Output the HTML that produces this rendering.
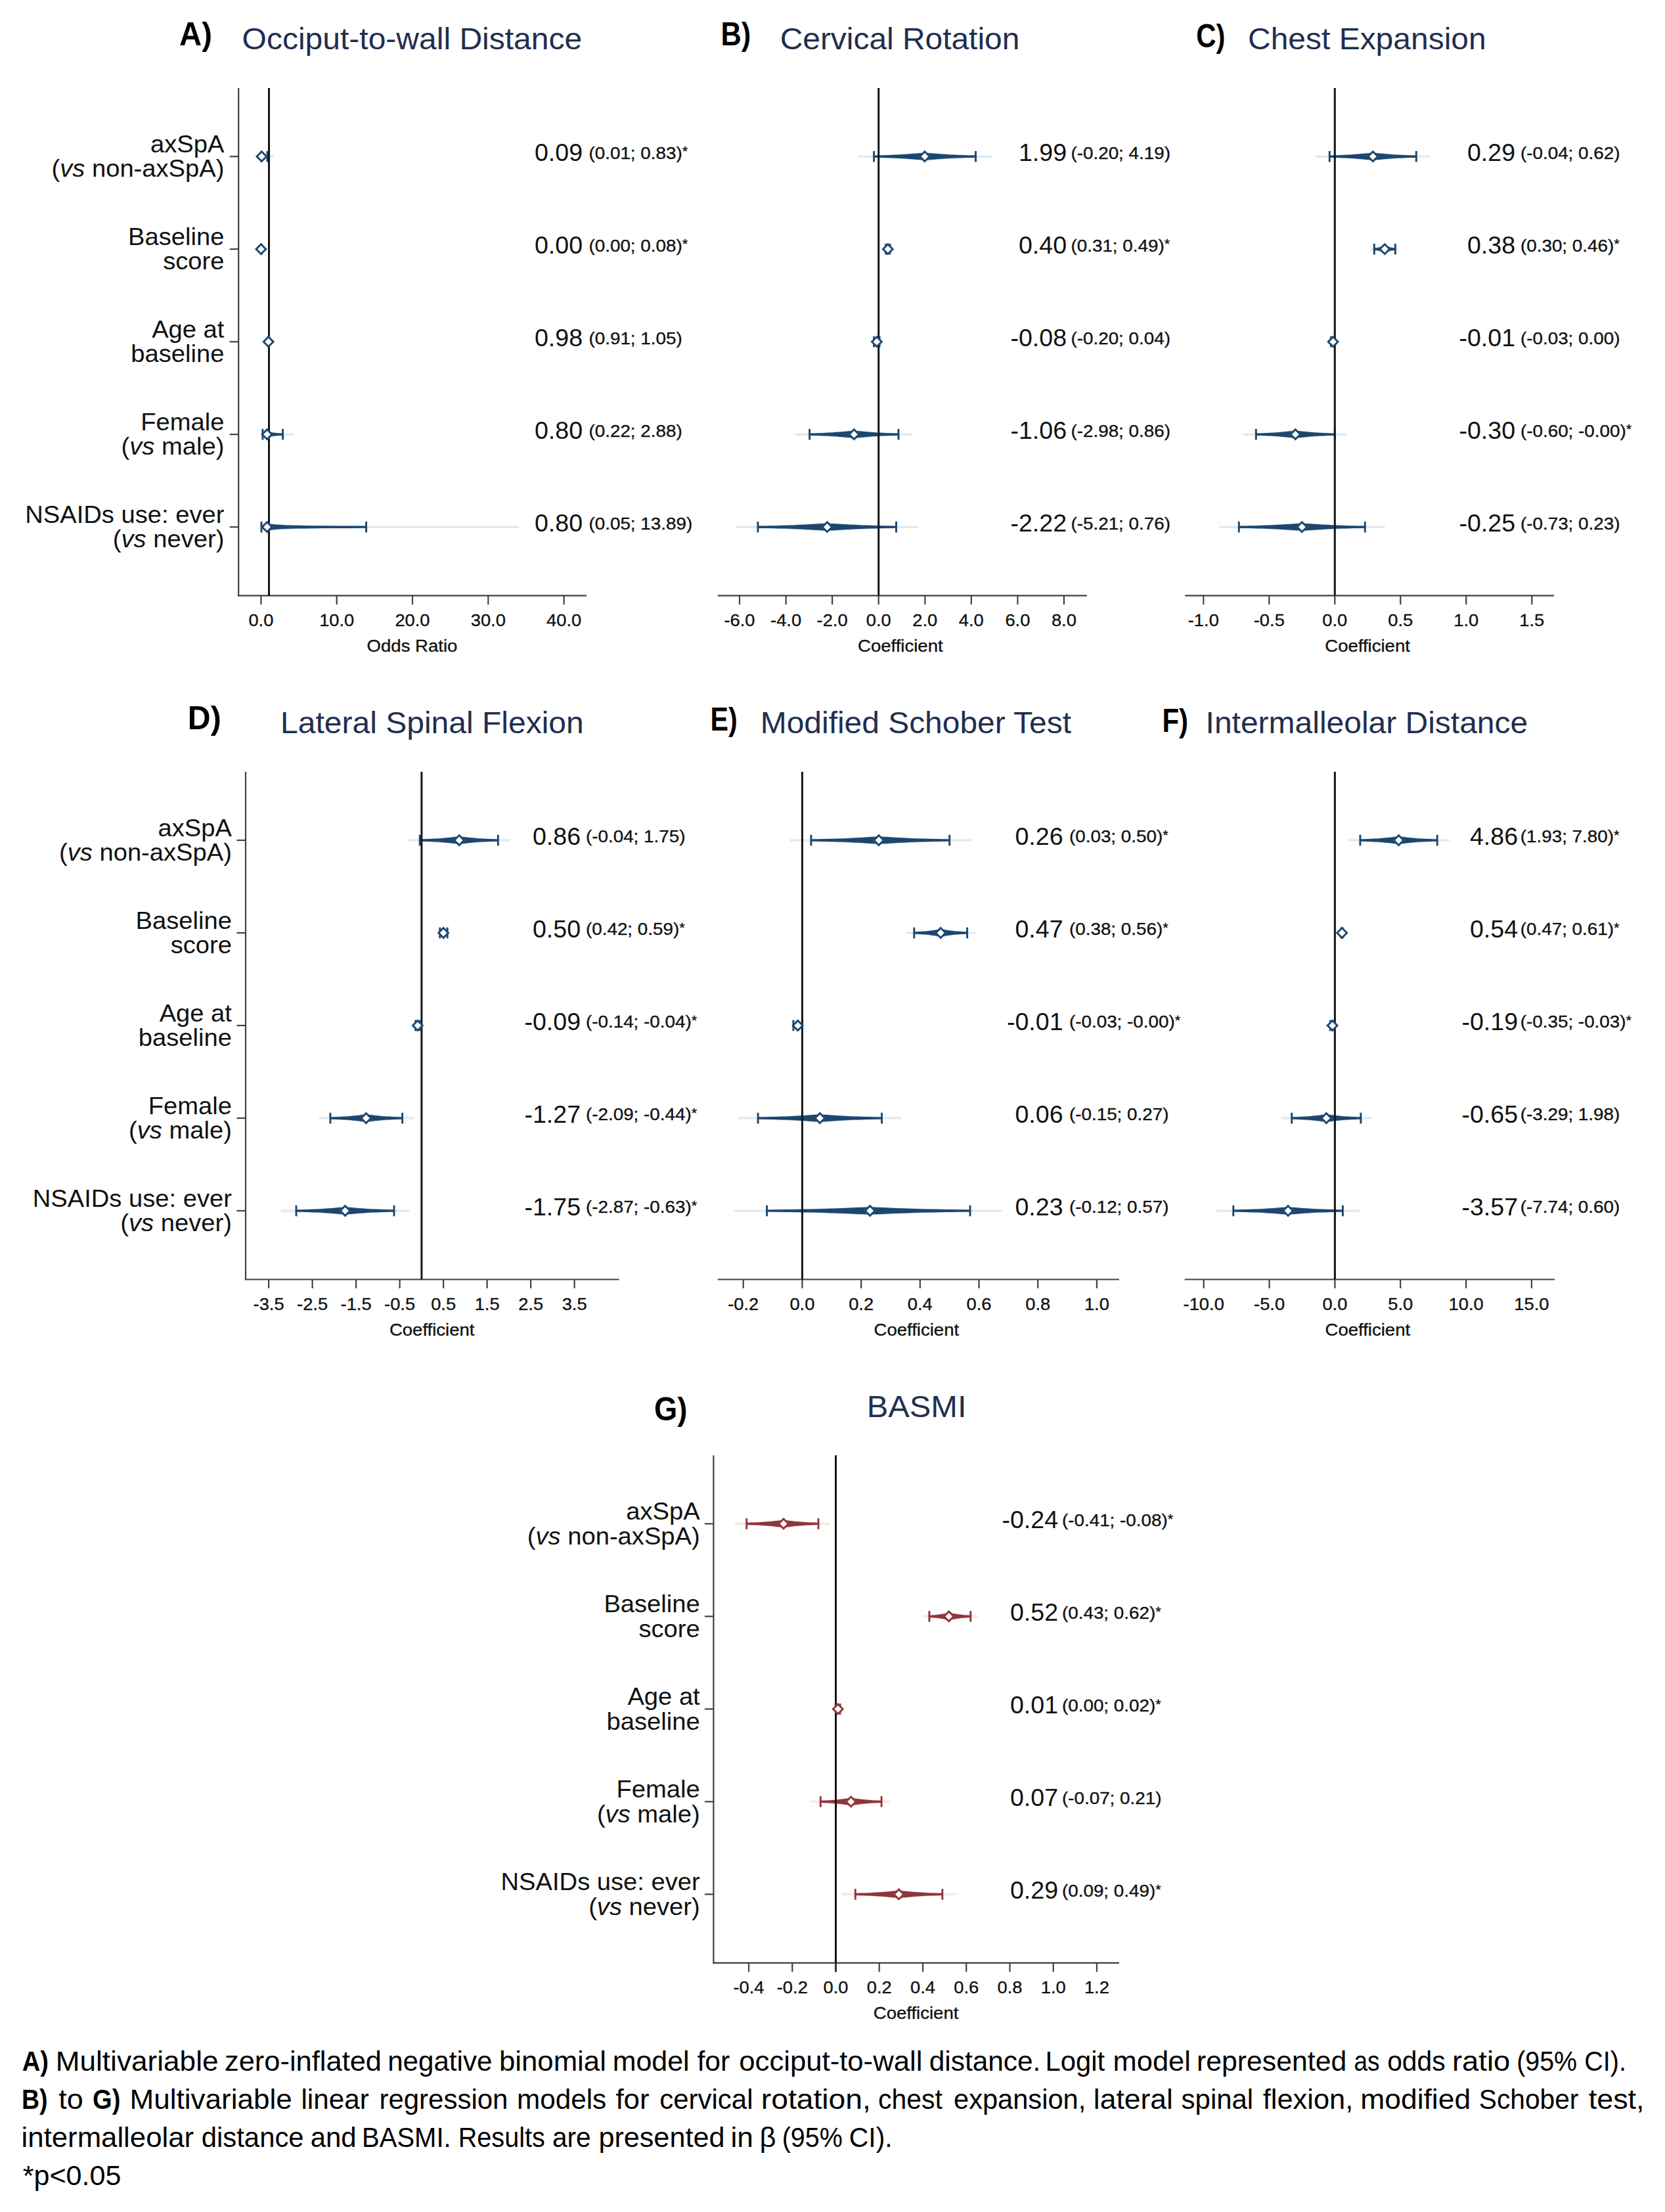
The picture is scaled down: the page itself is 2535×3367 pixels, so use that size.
<!DOCTYPE html>
<html lang="en"><head><meta charset="utf-8"><title>Figure</title>
<style>
html,body{margin:0;padding:0;background:#fff;}
body{width:2535px;height:3367px;overflow:hidden;}
svg{display:block;font-family:'Liberation Sans', Arial, Helvetica, sans-serif;}
</style></head><body>
<svg width="2535" height="3367" viewBox="0 0 2535 3367" style="font-family:'Liberation Sans', Arial, Helvetica, sans-serif">
<rect width="2535" height="3367" fill="#fff"/>
<text transform="translate(273.0,68.5) scale(0.957,1)" font-size="49.5" font-weight="bold" fill="#000">A)</text>
<text transform="translate(368.6,75.4) scale(1.0217,1)" font-size="47" fill="#212e50">Occiput-to-wall Distance</text>
<line x1="397.5" y1="238.2" x2="416.6" y2="238.2" stroke="#e3e9f0" stroke-width="3.6"/>
<polygon points="397.5,236.0 397.5,235.9 397.6,235.8 397.6,235.7 397.6,235.5 397.6,235.4 397.7,235.2 397.7,234.9 397.7,234.6 397.8,234.3 397.9,234.0 397.9,233.6 398.0,233.2 398.1,232.8 398.2,232.4 398.3,231.9 398.4,231.4 398.6,231.9 398.8,232.4 399.0,232.8 399.2,233.2 399.5,233.6 399.8,234.0 400.1,234.3 400.6,234.6 401.0,234.9 401.6,235.2 402.2,235.4 402.9,235.5 403.7,235.7 404.6,235.8 405.7,235.9 407.0,236.0 407.0,240.4 405.7,240.5 404.6,240.6 403.7,240.7 402.9,240.9 402.2,241.0 401.6,241.2 401.0,241.5 400.6,241.8 400.1,242.1 399.8,242.4 399.5,242.8 399.2,243.2 399.0,243.6 398.8,244.0 398.6,244.5 398.4,244.9 398.3,244.5 398.2,244.0 398.1,243.6 398.0,243.2 397.9,242.8 397.9,242.4 397.8,242.1 397.7,241.8 397.7,241.5 397.7,241.2 397.6,241.0 397.6,240.9 397.6,240.7 397.6,240.6 397.5,240.5 397.5,240.4" fill="#8fa6bd" opacity="0.35"/>
<polygon points="397.5,236.6 397.5,236.5 397.6,236.4 397.6,236.3 397.6,236.2 397.6,236.0 397.7,235.8 397.7,235.6 397.7,235.4 397.8,235.1 397.9,234.8 397.9,234.5 398.0,234.1 398.1,233.7 398.2,233.3 398.3,232.9 398.4,232.4 398.6,232.9 398.8,233.3 399.0,233.7 399.2,234.1 399.5,234.5 399.8,234.8 400.1,235.1 400.6,235.4 401.0,235.6 401.6,235.8 402.2,236.0 402.9,236.2 403.7,236.3 404.6,236.4 405.7,236.5 407.0,236.6 407.0,239.8 405.7,239.9 404.6,240.0 403.7,240.1 402.9,240.2 402.2,240.4 401.6,240.6 401.0,240.8 400.6,241.0 400.1,241.3 399.8,241.6 399.5,241.9 399.2,242.3 399.0,242.7 398.8,243.1 398.6,243.5 398.4,243.9 398.3,243.5 398.2,243.1 398.1,242.7 398.0,242.3 397.9,241.9 397.9,241.6 397.8,241.3 397.7,241.0 397.7,240.8 397.7,240.6 397.6,240.4 397.6,240.2 397.6,240.1 397.6,240.0 397.5,239.9 397.5,239.8" fill="#1a476f"/>
<line x1="397.5" y1="229.9" x2="397.5" y2="246.5" stroke="#1a476f" stroke-width="2.9"/>
<line x1="407.0" y1="229.9" x2="407.0" y2="246.5" stroke="#1a476f" stroke-width="2.9"/>
<line x1="397.4" y1="379.2" x2="400.3" y2="379.2" stroke="#e3e9f0" stroke-width="3.6"/>
<polygon points="397.4,377.0 397.4,376.9 397.4,376.8 397.4,376.7 397.4,376.5 397.4,376.4 397.4,376.2 397.4,375.9 397.4,375.6 397.4,375.3 397.4,375.0 397.4,374.6 397.4,374.2 397.4,373.8 397.4,373.4 397.4,372.9 397.4,372.4 397.4,372.9 397.4,373.4 397.4,373.8 397.5,374.2 397.5,374.6 397.5,375.0 397.5,375.3 397.5,375.6 397.6,375.9 397.6,376.2 397.7,376.4 397.8,376.5 397.9,376.7 398.0,376.8 398.1,376.9 398.3,377.0 398.3,381.4 398.1,381.5 398.0,381.6 397.9,381.7 397.8,381.9 397.7,382.0 397.6,382.2 397.6,382.5 397.5,382.8 397.5,383.1 397.5,383.4 397.5,383.8 397.5,384.2 397.4,384.6 397.4,385.0 397.4,385.5 397.4,385.9 397.4,385.5 397.4,385.0 397.4,384.6 397.4,384.2 397.4,383.8 397.4,383.4 397.4,383.1 397.4,382.8 397.4,382.5 397.4,382.2 397.4,382.0 397.4,381.9 397.4,381.7 397.4,381.6 397.4,381.5 397.4,381.4" fill="#8fa6bd" opacity="0.35"/>
<polygon points="397.4,377.6 397.4,377.5 397.4,377.4 397.4,377.3 397.4,377.2 397.4,377.0 397.4,376.8 397.4,376.6 397.4,376.4 397.4,376.1 397.4,375.8 397.4,375.5 397.4,375.1 397.4,374.7 397.4,374.3 397.4,373.9 397.4,373.4 397.4,373.9 397.4,374.3 397.4,374.7 397.5,375.1 397.5,375.5 397.5,375.8 397.5,376.1 397.5,376.4 397.6,376.6 397.6,376.8 397.7,377.0 397.8,377.2 397.9,377.3 398.0,377.4 398.1,377.5 398.3,377.6 398.3,380.8 398.1,380.9 398.0,381.0 397.9,381.1 397.8,381.2 397.7,381.4 397.6,381.6 397.6,381.8 397.5,382.0 397.5,382.3 397.5,382.6 397.5,382.9 397.5,383.3 397.4,383.7 397.4,384.1 397.4,384.5 397.4,384.9 397.4,384.5 397.4,384.1 397.4,383.7 397.4,383.3 397.4,382.9 397.4,382.6 397.4,382.3 397.4,382.0 397.4,381.8 397.4,381.6 397.4,381.4 397.4,381.2 397.4,381.1 397.4,381.0 397.4,380.9 397.4,380.8" fill="#1a476f"/>
<line x1="397.4" y1="370.9" x2="397.4" y2="387.5" stroke="#1a476f" stroke-width="2.9"/>
<line x1="398.3" y1="370.9" x2="398.3" y2="387.5" stroke="#1a476f" stroke-width="2.9"/>
<line x1="407.7" y1="520.2" x2="409.8" y2="520.2" stroke="#e3e9f0" stroke-width="3.6"/>
<polygon points="407.9,518.0 407.9,517.9 408.0,517.8 408.0,517.7 408.1,517.5 408.1,517.4 408.2,517.2 408.2,516.9 408.3,516.6 408.3,516.3 408.4,516.0 408.4,515.6 408.5,515.2 408.5,514.8 408.6,514.4 408.6,513.9 408.7,513.5 408.7,513.9 408.8,514.4 408.8,514.8 408.9,515.2 408.9,515.6 409.0,516.0 409.0,516.3 409.1,516.6 409.1,516.9 409.2,517.2 409.2,517.4 409.3,517.5 409.4,517.7 409.4,517.8 409.5,517.9 409.5,518.0 409.5,522.4 409.5,522.5 409.4,522.6 409.4,522.7 409.3,522.9 409.2,523.0 409.2,523.2 409.1,523.5 409.1,523.8 409.0,524.1 409.0,524.4 408.9,524.8 408.9,525.2 408.8,525.6 408.8,526.0 408.7,526.5 408.7,527.0 408.6,526.5 408.6,526.0 408.5,525.6 408.5,525.2 408.4,524.8 408.4,524.4 408.3,524.1 408.3,523.8 408.2,523.5 408.2,523.2 408.1,523.0 408.1,522.9 408.0,522.7 408.0,522.6 407.9,522.5 407.9,522.4" fill="#8fa6bd" opacity="0.35"/>
<polygon points="407.9,518.6 407.9,518.5 408.0,518.4 408.0,518.3 408.1,518.2 408.1,518.0 408.2,517.8 408.2,517.6 408.3,517.4 408.3,517.1 408.4,516.8 408.4,516.5 408.5,516.1 408.5,515.7 408.6,515.3 408.6,514.9 408.7,514.5 408.7,514.9 408.8,515.3 408.8,515.7 408.9,516.1 408.9,516.5 409.0,516.8 409.0,517.1 409.1,517.4 409.1,517.6 409.2,517.8 409.2,518.0 409.3,518.2 409.4,518.3 409.4,518.4 409.5,518.5 409.5,518.6 409.5,521.8 409.5,521.9 409.4,522.0 409.4,522.1 409.3,522.2 409.2,522.4 409.2,522.6 409.1,522.8 409.1,523.0 409.0,523.3 409.0,523.6 408.9,523.9 408.9,524.3 408.8,524.7 408.8,525.1 408.7,525.5 408.7,526.0 408.6,525.5 408.6,525.1 408.5,524.7 408.5,524.3 408.4,523.9 408.4,523.6 408.3,523.3 408.3,523.0 408.2,522.8 408.2,522.6 408.1,522.4 408.1,522.2 408.0,522.1 408.0,522.0 407.9,521.9 407.9,521.8" fill="#1a476f"/>
<line x1="407.9" y1="511.9" x2="407.9" y2="528.5" stroke="#1a476f" stroke-width="2.9"/>
<line x1="409.5" y1="511.9" x2="409.5" y2="528.5" stroke="#1a476f" stroke-width="2.9"/>
<line x1="399.1" y1="661.2" x2="447.1" y2="661.2" stroke="#e3e9f0" stroke-width="3.6"/>
<polygon points="399.9,659.0 400.1,658.9 400.4,658.8 400.6,658.7 400.9,658.5 401.2,658.4 401.5,658.2 401.9,657.9 402.2,657.6 402.6,657.3 403.1,657.0 403.6,656.6 404.1,656.2 404.6,655.8 405.2,655.4 405.9,654.9 406.6,654.5 407.4,654.9 408.2,655.4 409.1,655.8 410.1,656.2 411.2,656.6 412.3,657.0 413.6,657.3 414.9,657.6 416.4,657.9 417.9,658.2 419.7,658.4 421.5,658.5 423.5,658.7 425.7,658.8 428.1,658.9 430.6,659.0 430.6,663.4 428.1,663.5 425.7,663.6 423.5,663.7 421.5,663.9 419.7,664.0 417.9,664.2 416.4,664.5 414.9,664.8 413.6,665.1 412.3,665.4 411.2,665.8 410.1,666.2 409.1,666.6 408.2,667.0 407.4,667.5 406.6,668.0 405.9,667.5 405.2,667.0 404.6,666.6 404.1,666.2 403.6,665.8 403.1,665.4 402.6,665.1 402.2,664.8 401.9,664.5 401.5,664.2 401.2,664.0 400.9,663.9 400.6,663.7 400.4,663.6 400.1,663.5 399.9,663.4" fill="#8fa6bd" opacity="0.35"/>
<polygon points="399.9,659.6 400.1,659.5 400.4,659.4 400.6,659.3 400.9,659.2 401.2,659.0 401.5,658.8 401.9,658.6 402.2,658.4 402.6,658.1 403.1,657.8 403.6,657.5 404.1,657.1 404.6,656.7 405.2,656.3 405.9,655.9 406.6,655.5 407.4,655.9 408.2,656.3 409.1,656.7 410.1,657.1 411.2,657.5 412.3,657.8 413.6,658.1 414.9,658.4 416.4,658.6 417.9,658.8 419.7,659.0 421.5,659.2 423.5,659.3 425.7,659.4 428.1,659.5 430.6,659.6 430.6,662.8 428.1,662.9 425.7,663.0 423.5,663.1 421.5,663.2 419.7,663.4 417.9,663.6 416.4,663.8 414.9,664.0 413.6,664.3 412.3,664.6 411.2,664.9 410.1,665.3 409.1,665.7 408.2,666.1 407.4,666.5 406.6,667.0 405.9,666.5 405.2,666.1 404.6,665.7 404.1,665.3 403.6,664.9 403.1,664.6 402.6,664.3 402.2,664.0 401.9,663.8 401.5,663.6 401.2,663.4 400.9,663.2 400.6,663.1 400.4,663.0 400.1,662.9 399.9,662.8" fill="#1a476f"/>
<line x1="399.9" y1="652.9" x2="399.9" y2="669.5" stroke="#1a476f" stroke-width="2.9"/>
<line x1="430.6" y1="652.9" x2="430.6" y2="669.5" stroke="#1a476f" stroke-width="2.9"/>
<line x1="397.6" y1="802.2" x2="790.2" y2="802.2" stroke="#e3e9f0" stroke-width="3.6"/>
<polygon points="398.0,800.0 398.1,799.9 398.2,799.8 398.4,799.7 398.6,799.5 398.8,799.4 399.0,799.2 399.3,798.9 399.7,798.6 400.1,798.3 400.7,798.0 401.3,797.6 402.0,797.2 402.9,796.8 403.9,796.4 405.2,795.9 406.6,795.5 408.4,795.9 410.6,796.4 413.2,796.8 416.2,797.2 419.9,797.6 424.3,798.0 429.6,798.3 435.8,798.6 443.3,798.9 452.3,799.2 463.0,799.4 475.9,799.5 491.2,799.7 509.5,799.8 531.4,799.9 557.6,800.0 557.6,804.4 531.4,804.5 509.5,804.6 491.2,804.7 475.9,804.9 463.0,805.0 452.3,805.2 443.3,805.5 435.8,805.8 429.6,806.1 424.3,806.4 419.9,806.8 416.2,807.2 413.2,807.6 410.6,808.0 408.4,808.5 406.6,809.0 405.2,808.5 403.9,808.0 402.9,807.6 402.0,807.2 401.3,806.8 400.7,806.4 400.1,806.1 399.7,805.8 399.3,805.5 399.0,805.2 398.8,805.0 398.6,804.9 398.4,804.7 398.2,804.6 398.1,804.5 398.0,804.4" fill="#8fa6bd" opacity="0.35"/>
<polygon points="398.0,800.6 398.1,800.5 398.2,800.4 398.4,800.3 398.6,800.2 398.8,800.0 399.0,799.8 399.3,799.6 399.7,799.4 400.1,799.1 400.7,798.8 401.3,798.5 402.0,798.1 402.9,797.7 403.9,797.3 405.2,796.9 406.6,796.5 408.4,796.9 410.6,797.3 413.2,797.7 416.2,798.1 419.9,798.5 424.3,798.8 429.6,799.1 435.8,799.4 443.3,799.6 452.3,799.8 463.0,800.0 475.9,800.2 491.2,800.3 509.5,800.4 531.4,800.5 557.6,800.6 557.6,803.8 531.4,803.9 509.5,804.0 491.2,804.1 475.9,804.2 463.0,804.4 452.3,804.6 443.3,804.8 435.8,805.0 429.6,805.3 424.3,805.6 419.9,805.9 416.2,806.3 413.2,806.7 410.6,807.1 408.4,807.5 406.6,808.0 405.2,807.5 403.9,807.1 402.9,806.7 402.0,806.3 401.3,805.9 400.7,805.6 400.1,805.3 399.7,805.0 399.3,804.8 399.0,804.6 398.8,804.4 398.6,804.2 398.4,804.1 398.2,804.0 398.1,803.9 398.0,803.8" fill="#1a476f"/>
<line x1="398.0" y1="793.9" x2="398.0" y2="810.5" stroke="#1a476f" stroke-width="2.9"/>
<line x1="557.6" y1="793.9" x2="557.6" y2="810.5" stroke="#1a476f" stroke-width="2.9"/>
<line x1="362.1" y1="906.7" x2="893.0" y2="906.7" stroke="#404040" stroke-width="2.2"/>
<line x1="363.2" y1="134.0" x2="363.2" y2="907.8" stroke="#404040" stroke-width="2.2"/>
<line x1="349.7" y1="238.2" x2="363.2" y2="238.2" stroke="#404040" stroke-width="2.2"/>
<text transform="translate(341.4,232.0) scale(1.045,1)" font-size="36.5" text-anchor="end" fill="#111111">axSpA</text>
<text transform="translate(341.4,269.4) scale(1.045,1)" font-size="36.5" text-anchor="end" fill="#111111">(<tspan font-style="italic">vs</tspan> non-axSpA)</text>
<line x1="349.7" y1="379.2" x2="363.2" y2="379.2" stroke="#404040" stroke-width="2.2"/>
<text transform="translate(341.4,373.0) scale(1.045,1)" font-size="36.5" text-anchor="end" fill="#111111">Baseline</text>
<text transform="translate(341.4,410.4) scale(1.045,1)" font-size="36.5" text-anchor="end" fill="#111111">score</text>
<line x1="349.7" y1="520.2" x2="363.2" y2="520.2" stroke="#404040" stroke-width="2.2"/>
<text transform="translate(341.4,514.0) scale(1.045,1)" font-size="36.5" text-anchor="end" fill="#111111">Age at</text>
<text transform="translate(341.4,551.4) scale(1.045,1)" font-size="36.5" text-anchor="end" fill="#111111">baseline</text>
<line x1="349.7" y1="661.2" x2="363.2" y2="661.2" stroke="#404040" stroke-width="2.2"/>
<text transform="translate(341.4,655.0) scale(1.045,1)" font-size="36.5" text-anchor="end" fill="#111111">Female</text>
<text transform="translate(341.4,692.4) scale(1.045,1)" font-size="36.5" text-anchor="end" fill="#111111">(<tspan font-style="italic">vs</tspan> male)</text>
<line x1="349.7" y1="802.2" x2="363.2" y2="802.2" stroke="#404040" stroke-width="2.2"/>
<text transform="translate(341.4,796.0) scale(1.045,1)" font-size="36.5" text-anchor="end" fill="#111111">NSAIDs use: ever</text>
<text transform="translate(341.4,833.4) scale(1.045,1)" font-size="36.5" text-anchor="end" fill="#111111">(<tspan font-style="italic">vs</tspan> never)</text>
<line x1="409.5" y1="134.0" x2="409.5" y2="906.7" stroke="#151515" stroke-width="3.0"/>
<polygon points="388.5,238.2 398.4,228.3 408.3,238.2 398.4,248.1" fill="#8fa6bd" opacity="0.3"/>
<polygon points="391.0,238.2 398.4,230.8 405.8,238.2 398.4,245.6" fill="#fff" stroke="#1a476f" stroke-width="2.8" stroke-linejoin="miter"/>
<polygon points="387.5,379.2 397.4,369.3 407.3,379.2 397.4,389.1" fill="#8fa6bd" opacity="0.3"/>
<polygon points="390.0,379.2 397.4,371.8 404.8,379.2 397.4,386.6" fill="#fff" stroke="#1a476f" stroke-width="2.8" stroke-linejoin="miter"/>
<polygon points="398.8,520.2 408.7,510.3 418.6,520.2 408.7,530.1" fill="#8fa6bd" opacity="0.3"/>
<polygon points="401.3,520.2 408.7,512.8 416.1,520.2 408.7,527.6" fill="#fff" stroke="#1a476f" stroke-width="2.8" stroke-linejoin="miter"/>
<polygon points="396.7,661.2 406.6,651.3 416.5,661.2 406.6,671.1" fill="#8fa6bd" opacity="0.3"/>
<polygon points="399.2,661.2 406.6,653.8 414.0,661.2 406.6,668.6" fill="#fff" stroke="#1a476f" stroke-width="2.8" stroke-linejoin="miter"/>
<polygon points="396.7,802.2 406.6,792.3 416.5,802.2 406.6,812.1" fill="#8fa6bd" opacity="0.3"/>
<polygon points="399.2,802.2 406.6,794.8 414.0,802.2 406.6,809.6" fill="#fff" stroke="#1a476f" stroke-width="2.8" stroke-linejoin="miter"/>
<line x1="397.4" y1="906.7" x2="397.4" y2="920.2" stroke="#404040" stroke-width="2.2"/>
<text transform="translate(397.4,952.7) scale(1.03,1)" font-size="26.5" text-anchor="middle" fill="#111111" stroke="#111111" stroke-width="0.35">0.0</text>
<line x1="512.7" y1="906.7" x2="512.7" y2="920.2" stroke="#404040" stroke-width="2.2"/>
<text transform="translate(512.7,952.7) scale(1.03,1)" font-size="26.5" text-anchor="middle" fill="#111111" stroke="#111111" stroke-width="0.35">10.0</text>
<line x1="628.0" y1="906.7" x2="628.0" y2="920.2" stroke="#404040" stroke-width="2.2"/>
<text transform="translate(628.0,952.7) scale(1.03,1)" font-size="26.5" text-anchor="middle" fill="#111111" stroke="#111111" stroke-width="0.35">20.0</text>
<line x1="743.3" y1="906.7" x2="743.3" y2="920.2" stroke="#404040" stroke-width="2.2"/>
<text transform="translate(743.3,952.7) scale(1.03,1)" font-size="26.5" text-anchor="middle" fill="#111111" stroke="#111111" stroke-width="0.35">30.0</text>
<line x1="858.6" y1="906.7" x2="858.6" y2="920.2" stroke="#404040" stroke-width="2.2"/>
<text transform="translate(858.6,952.7) scale(1.03,1)" font-size="26.5" text-anchor="middle" fill="#111111" stroke="#111111" stroke-width="0.35">40.0</text>
<text transform="translate(627.5,991.7) scale(1.04,1)" font-size="26.5" text-anchor="middle" fill="#111111" stroke="#111111" stroke-width="0.35">Odds Ratio</text>
<text transform="translate(887.0,245.2) scale(1.042,1)" font-size="36" text-anchor="end" fill="#111111">0.09</text>
<text transform="translate(896.5,241.6) scale(1.07,1)" font-size="26" text-anchor="start" fill="#111111" stroke="#111111" stroke-width="0.35">(0.01; 0.83)<tspan font-size="20.5" dy="-4.2">*</tspan></text>
<text transform="translate(887.0,386.2) scale(1.042,1)" font-size="36" text-anchor="end" fill="#111111">0.00</text>
<text transform="translate(896.5,382.6) scale(1.07,1)" font-size="26" text-anchor="start" fill="#111111" stroke="#111111" stroke-width="0.35">(0.00; 0.08)<tspan font-size="20.5" dy="-4.2">*</tspan></text>
<text transform="translate(887.0,527.2) scale(1.042,1)" font-size="36" text-anchor="end" fill="#111111">0.98</text>
<text transform="translate(896.5,523.6) scale(1.07,1)" font-size="26" text-anchor="start" fill="#111111" stroke="#111111" stroke-width="0.35">(0.91; 1.05)</text>
<text transform="translate(887.0,668.2) scale(1.042,1)" font-size="36" text-anchor="end" fill="#111111">0.80</text>
<text transform="translate(896.5,664.6) scale(1.07,1)" font-size="26" text-anchor="start" fill="#111111" stroke="#111111" stroke-width="0.35">(0.22; 2.88)</text>
<text transform="translate(887.0,809.2) scale(1.042,1)" font-size="36" text-anchor="end" fill="#111111">0.80</text>
<text transform="translate(896.5,805.6) scale(1.07,1)" font-size="26" text-anchor="start" fill="#111111" stroke="#111111" stroke-width="0.35">(0.05; 13.89)</text>
<text transform="translate(1097.6,68.5) scale(0.875,1)" font-size="49.5" font-weight="bold" fill="#000">B)</text>
<text transform="translate(1187.7,75.4) scale(1.0191,1)" font-size="47" fill="#212e50">Cervical Rotation</text>
<line x1="1306.4" y1="238.2" x2="1509.9" y2="238.2" stroke="#e3e9f0" stroke-width="3.6"/>
<polygon points="1330.6,236.0 1335.5,235.9 1340.3,235.8 1345.1,235.7 1350.0,235.5 1354.8,235.4 1359.6,235.2 1364.4,234.9 1369.3,234.6 1374.1,234.3 1378.9,234.0 1383.8,233.6 1388.6,233.2 1393.4,232.8 1398.2,232.4 1403.1,231.9 1407.9,231.4 1412.8,231.9 1417.6,232.4 1422.5,232.8 1427.3,233.2 1432.2,233.6 1437.0,234.0 1441.9,234.3 1446.7,234.6 1451.6,234.9 1456.4,235.2 1461.3,235.4 1466.1,235.5 1471.0,235.7 1475.8,235.8 1480.7,235.9 1485.5,236.0 1485.5,240.4 1480.7,240.5 1475.8,240.6 1471.0,240.7 1466.1,240.9 1461.3,241.0 1456.4,241.2 1451.6,241.5 1446.7,241.8 1441.9,242.1 1437.0,242.4 1432.2,242.8 1427.3,243.2 1422.5,243.6 1417.6,244.0 1412.8,244.5 1407.9,244.9 1403.1,244.5 1398.2,244.0 1393.4,243.6 1388.6,243.2 1383.8,242.8 1378.9,242.4 1374.1,242.1 1369.3,241.8 1364.4,241.5 1359.6,241.2 1354.8,241.0 1350.0,240.9 1345.1,240.7 1340.3,240.6 1335.5,240.5 1330.6,240.4" fill="#8fa6bd" opacity="0.35"/>
<polygon points="1330.6,236.6 1335.5,236.5 1340.3,236.4 1345.1,236.3 1350.0,236.2 1354.8,236.0 1359.6,235.8 1364.4,235.6 1369.3,235.4 1374.1,235.1 1378.9,234.8 1383.8,234.5 1388.6,234.1 1393.4,233.7 1398.2,233.3 1403.1,232.9 1407.9,232.4 1412.8,232.9 1417.6,233.3 1422.5,233.7 1427.3,234.1 1432.2,234.5 1437.0,234.8 1441.9,235.1 1446.7,235.4 1451.6,235.6 1456.4,235.8 1461.3,236.0 1466.1,236.2 1471.0,236.3 1475.8,236.4 1480.7,236.5 1485.5,236.6 1485.5,239.8 1480.7,239.9 1475.8,240.0 1471.0,240.1 1466.1,240.2 1461.3,240.4 1456.4,240.6 1451.6,240.8 1446.7,241.0 1441.9,241.3 1437.0,241.6 1432.2,241.9 1427.3,242.3 1422.5,242.7 1417.6,243.1 1412.8,243.5 1407.9,243.9 1403.1,243.5 1398.2,243.1 1393.4,242.7 1388.6,242.3 1383.8,241.9 1378.9,241.6 1374.1,241.3 1369.3,241.0 1364.4,240.8 1359.6,240.6 1354.8,240.4 1350.0,240.2 1345.1,240.1 1340.3,240.0 1335.5,239.9 1330.6,239.8" fill="#1a476f"/>
<line x1="1330.6" y1="229.9" x2="1330.6" y2="246.5" stroke="#1a476f" stroke-width="2.9"/>
<line x1="1485.5" y1="229.9" x2="1485.5" y2="246.5" stroke="#1a476f" stroke-width="2.9"/>
<line x1="1347.6" y1="379.2" x2="1356.0" y2="379.2" stroke="#e3e9f0" stroke-width="3.6"/>
<polygon points="1348.6,377.0 1348.8,376.9 1349.0,376.8 1349.2,376.7 1349.4,376.5 1349.6,376.4 1349.8,376.2 1350.0,375.9 1350.2,375.6 1350.4,375.3 1350.6,375.0 1350.8,374.6 1351.0,374.2 1351.2,373.8 1351.4,373.4 1351.6,372.9 1351.8,372.4 1352.0,372.9 1352.2,373.4 1352.4,373.8 1352.6,374.2 1352.8,374.6 1353.0,375.0 1353.2,375.3 1353.4,375.6 1353.6,375.9 1353.8,376.2 1354.0,376.4 1354.2,376.5 1354.4,376.7 1354.6,376.8 1354.8,376.9 1355.0,377.0 1355.0,381.4 1354.8,381.5 1354.6,381.6 1354.4,381.7 1354.2,381.9 1354.0,382.0 1353.8,382.2 1353.6,382.5 1353.4,382.8 1353.2,383.1 1353.0,383.4 1352.8,383.8 1352.6,384.2 1352.4,384.6 1352.2,385.0 1352.0,385.5 1351.8,385.9 1351.6,385.5 1351.4,385.0 1351.2,384.6 1351.0,384.2 1350.8,383.8 1350.6,383.4 1350.4,383.1 1350.2,382.8 1350.0,382.5 1349.8,382.2 1349.6,382.0 1349.4,381.9 1349.2,381.7 1349.0,381.6 1348.8,381.5 1348.6,381.4" fill="#8fa6bd" opacity="0.35"/>
<polygon points="1348.6,377.6 1348.8,377.5 1349.0,377.4 1349.2,377.3 1349.4,377.2 1349.6,377.0 1349.8,376.8 1350.0,376.6 1350.2,376.4 1350.4,376.1 1350.6,375.8 1350.8,375.5 1351.0,375.1 1351.2,374.7 1351.4,374.3 1351.6,373.9 1351.8,373.4 1352.0,373.9 1352.2,374.3 1352.4,374.7 1352.6,375.1 1352.8,375.5 1353.0,375.8 1353.2,376.1 1353.4,376.4 1353.6,376.6 1353.8,376.8 1354.0,377.0 1354.2,377.2 1354.4,377.3 1354.6,377.4 1354.8,377.5 1355.0,377.6 1355.0,380.8 1354.8,380.9 1354.6,381.0 1354.4,381.1 1354.2,381.2 1354.0,381.4 1353.8,381.6 1353.6,381.8 1353.4,382.0 1353.2,382.3 1353.0,382.6 1352.8,382.9 1352.6,383.3 1352.4,383.7 1352.2,384.1 1352.0,384.5 1351.8,384.9 1351.6,384.5 1351.4,384.1 1351.2,383.7 1351.0,383.3 1350.8,382.9 1350.6,382.6 1350.4,382.3 1350.2,382.0 1350.0,381.8 1349.8,381.6 1349.6,381.4 1349.4,381.2 1349.2,381.1 1349.0,381.0 1348.8,380.9 1348.6,380.8" fill="#1a476f"/>
<line x1="1348.6" y1="370.9" x2="1348.6" y2="387.5" stroke="#1a476f" stroke-width="2.9"/>
<line x1="1355.0" y1="370.9" x2="1355.0" y2="387.5" stroke="#1a476f" stroke-width="2.9"/>
<line x1="1329.3" y1="520.2" x2="1340.4" y2="520.2" stroke="#e3e9f0" stroke-width="3.6"/>
<polygon points="1330.6,518.0 1330.9,517.9 1331.2,517.8 1331.4,517.7 1331.7,517.5 1332.0,517.4 1332.2,517.2 1332.5,516.9 1332.8,516.6 1333.0,516.3 1333.3,516.0 1333.6,515.6 1333.8,515.2 1334.1,514.8 1334.3,514.4 1334.6,513.9 1334.9,513.5 1335.1,513.9 1335.4,514.4 1335.7,514.8 1335.9,515.2 1336.2,515.6 1336.5,516.0 1336.7,516.3 1337.0,516.6 1337.3,516.9 1337.5,517.2 1337.8,517.4 1338.1,517.5 1338.3,517.7 1338.6,517.8 1338.8,517.9 1339.1,518.0 1339.1,522.4 1338.8,522.5 1338.6,522.6 1338.3,522.7 1338.1,522.9 1337.8,523.0 1337.5,523.2 1337.3,523.5 1337.0,523.8 1336.7,524.1 1336.5,524.4 1336.2,524.8 1335.9,525.2 1335.7,525.6 1335.4,526.0 1335.1,526.5 1334.9,527.0 1334.6,526.5 1334.3,526.0 1334.1,525.6 1333.8,525.2 1333.6,524.8 1333.3,524.4 1333.0,524.1 1332.8,523.8 1332.5,523.5 1332.2,523.2 1332.0,523.0 1331.7,522.9 1331.4,522.7 1331.2,522.6 1330.9,522.5 1330.6,522.4" fill="#8fa6bd" opacity="0.35"/>
<polygon points="1330.6,518.6 1330.9,518.5 1331.2,518.4 1331.4,518.3 1331.7,518.2 1332.0,518.0 1332.2,517.8 1332.5,517.6 1332.8,517.4 1333.0,517.1 1333.3,516.8 1333.6,516.5 1333.8,516.1 1334.1,515.7 1334.3,515.3 1334.6,514.9 1334.9,514.5 1335.1,514.9 1335.4,515.3 1335.7,515.7 1335.9,516.1 1336.2,516.5 1336.5,516.8 1336.7,517.1 1337.0,517.4 1337.3,517.6 1337.5,517.8 1337.8,518.0 1338.1,518.2 1338.3,518.3 1338.6,518.4 1338.8,518.5 1339.1,518.6 1339.1,521.8 1338.8,521.9 1338.6,522.0 1338.3,522.1 1338.1,522.2 1337.8,522.4 1337.5,522.6 1337.3,522.8 1337.0,523.0 1336.7,523.3 1336.5,523.6 1336.2,523.9 1335.9,524.3 1335.7,524.7 1335.4,525.1 1335.1,525.5 1334.9,526.0 1334.6,525.5 1334.3,525.1 1334.1,524.7 1333.8,524.3 1333.6,523.9 1333.3,523.6 1333.0,523.3 1332.8,523.0 1332.5,522.8 1332.2,522.6 1332.0,522.4 1331.7,522.2 1331.4,522.1 1331.2,522.0 1330.9,521.9 1330.6,521.8" fill="#1a476f"/>
<line x1="1330.6" y1="511.9" x2="1330.6" y2="528.5" stroke="#1a476f" stroke-width="2.9"/>
<line x1="1339.1" y1="511.9" x2="1339.1" y2="528.5" stroke="#1a476f" stroke-width="2.9"/>
<line x1="1211.3" y1="661.2" x2="1389.3" y2="661.2" stroke="#e3e9f0" stroke-width="3.6"/>
<polygon points="1232.6,659.0 1236.8,658.9 1241.0,658.8 1245.3,658.7 1249.5,658.5 1253.7,658.4 1258.0,658.2 1262.2,657.9 1266.4,657.6 1270.7,657.3 1274.9,657.0 1279.1,656.6 1283.4,656.2 1287.6,655.8 1291.8,655.4 1296.1,654.9 1300.3,654.5 1304.5,654.9 1308.8,655.4 1313.0,655.8 1317.2,656.2 1321.5,656.6 1325.7,657.0 1329.9,657.3 1334.2,657.6 1338.4,657.9 1342.6,658.2 1346.9,658.4 1351.1,658.5 1355.3,658.7 1359.6,658.8 1363.8,658.9 1368.0,659.0 1368.0,663.4 1363.8,663.5 1359.6,663.6 1355.3,663.7 1351.1,663.9 1346.9,664.0 1342.6,664.2 1338.4,664.5 1334.2,664.8 1329.9,665.1 1325.7,665.4 1321.5,665.8 1317.2,666.2 1313.0,666.6 1308.8,667.0 1304.5,667.5 1300.3,668.0 1296.1,667.5 1291.8,667.0 1287.6,666.6 1283.4,666.2 1279.1,665.8 1274.9,665.4 1270.7,665.1 1266.4,664.8 1262.2,664.5 1258.0,664.2 1253.7,664.0 1249.5,663.9 1245.3,663.7 1241.0,663.6 1236.8,663.5 1232.6,663.4" fill="#8fa6bd" opacity="0.35"/>
<polygon points="1232.6,659.6 1236.8,659.5 1241.0,659.4 1245.3,659.3 1249.5,659.2 1253.7,659.0 1258.0,658.8 1262.2,658.6 1266.4,658.4 1270.7,658.1 1274.9,657.8 1279.1,657.5 1283.4,657.1 1287.6,656.7 1291.8,656.3 1296.1,655.9 1300.3,655.5 1304.5,655.9 1308.8,656.3 1313.0,656.7 1317.2,657.1 1321.5,657.5 1325.7,657.8 1329.9,658.1 1334.2,658.4 1338.4,658.6 1342.6,658.8 1346.9,659.0 1351.1,659.2 1355.3,659.3 1359.6,659.4 1363.8,659.5 1368.0,659.6 1368.0,662.8 1363.8,662.9 1359.6,663.0 1355.3,663.1 1351.1,663.2 1346.9,663.4 1342.6,663.6 1338.4,663.8 1334.2,664.0 1329.9,664.3 1325.7,664.6 1321.5,664.9 1317.2,665.3 1313.0,665.7 1308.8,666.1 1304.5,666.5 1300.3,667.0 1296.1,666.5 1291.8,666.1 1287.6,665.7 1283.4,665.3 1279.1,664.9 1274.9,664.6 1270.7,664.3 1266.4,664.0 1262.2,663.8 1258.0,663.6 1253.7,663.4 1249.5,663.2 1245.3,663.1 1241.0,663.0 1236.8,662.9 1232.6,662.8" fill="#1a476f"/>
<line x1="1232.6" y1="652.9" x2="1232.6" y2="669.5" stroke="#1a476f" stroke-width="2.9"/>
<line x1="1368.0" y1="652.9" x2="1368.0" y2="669.5" stroke="#1a476f" stroke-width="2.9"/>
<line x1="1120.7" y1="802.2" x2="1397.6" y2="802.2" stroke="#e3e9f0" stroke-width="3.6"/>
<polygon points="1153.9,800.0 1160.5,799.9 1167.1,799.8 1173.7,799.7 1180.3,799.5 1186.9,799.4 1193.4,799.2 1200.0,798.9 1206.6,798.6 1213.2,798.3 1219.8,798.0 1226.4,797.6 1233.0,797.2 1239.6,796.8 1246.2,796.4 1252.8,795.9 1259.4,795.5 1265.9,795.9 1272.5,796.4 1279.1,796.8 1285.7,797.2 1292.2,797.6 1298.8,798.0 1305.4,798.3 1311.9,798.6 1318.5,798.9 1325.1,799.2 1331.7,799.4 1338.2,799.5 1344.8,799.7 1351.4,799.8 1357.9,799.9 1364.5,800.0 1364.5,804.4 1357.9,804.5 1351.4,804.6 1344.8,804.7 1338.2,804.9 1331.7,805.0 1325.1,805.2 1318.5,805.5 1311.9,805.8 1305.4,806.1 1298.8,806.4 1292.2,806.8 1285.7,807.2 1279.1,807.6 1272.5,808.0 1265.9,808.5 1259.4,809.0 1252.8,808.5 1246.2,808.0 1239.6,807.6 1233.0,807.2 1226.4,806.8 1219.8,806.4 1213.2,806.1 1206.6,805.8 1200.0,805.5 1193.4,805.2 1186.9,805.0 1180.3,804.9 1173.7,804.7 1167.1,804.6 1160.5,804.5 1153.9,804.4" fill="#8fa6bd" opacity="0.35"/>
<polygon points="1153.9,800.6 1160.5,800.5 1167.1,800.4 1173.7,800.3 1180.3,800.2 1186.9,800.0 1193.4,799.8 1200.0,799.6 1206.6,799.4 1213.2,799.1 1219.8,798.8 1226.4,798.5 1233.0,798.1 1239.6,797.7 1246.2,797.3 1252.8,796.9 1259.4,796.5 1265.9,796.9 1272.5,797.3 1279.1,797.7 1285.7,798.1 1292.2,798.5 1298.8,798.8 1305.4,799.1 1311.9,799.4 1318.5,799.6 1325.1,799.8 1331.7,800.0 1338.2,800.2 1344.8,800.3 1351.4,800.4 1357.9,800.5 1364.5,800.6 1364.5,803.8 1357.9,803.9 1351.4,804.0 1344.8,804.1 1338.2,804.2 1331.7,804.4 1325.1,804.6 1318.5,804.8 1311.9,805.0 1305.4,805.3 1298.8,805.6 1292.2,805.9 1285.7,806.3 1279.1,806.7 1272.5,807.1 1265.9,807.5 1259.4,808.0 1252.8,807.5 1246.2,807.1 1239.6,806.7 1233.0,806.3 1226.4,805.9 1219.8,805.6 1213.2,805.3 1206.6,805.0 1200.0,804.8 1193.4,804.6 1186.9,804.4 1180.3,804.2 1173.7,804.1 1167.1,804.0 1160.5,803.9 1153.9,803.8" fill="#1a476f"/>
<line x1="1153.9" y1="793.9" x2="1153.9" y2="810.5" stroke="#1a476f" stroke-width="2.9"/>
<line x1="1364.5" y1="793.9" x2="1364.5" y2="810.5" stroke="#1a476f" stroke-width="2.9"/>
<line x1="1092.7" y1="906.7" x2="1654.9" y2="906.7" stroke="#404040" stroke-width="2.2"/>
<line x1="1337.7" y1="134.0" x2="1337.7" y2="906.7" stroke="#151515" stroke-width="3.0"/>
<polygon points="1398.0,238.2 1407.9,228.3 1417.8,238.2 1407.9,248.1" fill="#8fa6bd" opacity="0.3"/>
<polygon points="1400.5,238.2 1407.9,230.8 1415.3,238.2 1407.9,245.6" fill="#fff" stroke="#1a476f" stroke-width="2.8" stroke-linejoin="miter"/>
<polygon points="1341.9,379.2 1351.8,369.3 1361.7,379.2 1351.8,389.1" fill="#8fa6bd" opacity="0.3"/>
<polygon points="1344.4,379.2 1351.8,371.8 1359.2,379.2 1351.8,386.6" fill="#fff" stroke="#1a476f" stroke-width="2.8" stroke-linejoin="miter"/>
<polygon points="1325.0,520.2 1334.9,510.3 1344.8,520.2 1334.9,530.1" fill="#8fa6bd" opacity="0.3"/>
<polygon points="1327.5,520.2 1334.9,512.8 1342.3,520.2 1334.9,527.6" fill="#fff" stroke="#1a476f" stroke-width="2.8" stroke-linejoin="miter"/>
<polygon points="1290.4,661.2 1300.3,651.3 1310.2,661.2 1300.3,671.1" fill="#8fa6bd" opacity="0.3"/>
<polygon points="1292.9,661.2 1300.3,653.8 1307.7,661.2 1300.3,668.6" fill="#fff" stroke="#1a476f" stroke-width="2.8" stroke-linejoin="miter"/>
<polygon points="1249.5,802.2 1259.4,792.3 1269.3,802.2 1259.4,812.1" fill="#8fa6bd" opacity="0.3"/>
<polygon points="1252.0,802.2 1259.4,794.8 1266.8,802.2 1259.4,809.6" fill="#fff" stroke="#1a476f" stroke-width="2.8" stroke-linejoin="miter"/>
<line x1="1126.0" y1="906.7" x2="1126.0" y2="920.2" stroke="#404040" stroke-width="2.2"/>
<text transform="translate(1126.0,952.7) scale(1.03,1)" font-size="26.5" text-anchor="middle" fill="#111111" stroke="#111111" stroke-width="0.35">-6.0</text>
<line x1="1196.6" y1="906.7" x2="1196.6" y2="920.2" stroke="#404040" stroke-width="2.2"/>
<text transform="translate(1196.6,952.7) scale(1.03,1)" font-size="26.5" text-anchor="middle" fill="#111111" stroke="#111111" stroke-width="0.35">-4.0</text>
<line x1="1267.1" y1="906.7" x2="1267.1" y2="920.2" stroke="#404040" stroke-width="2.2"/>
<text transform="translate(1267.1,952.7) scale(1.03,1)" font-size="26.5" text-anchor="middle" fill="#111111" stroke="#111111" stroke-width="0.35">-2.0</text>
<line x1="1337.7" y1="906.7" x2="1337.7" y2="920.2" stroke="#404040" stroke-width="2.2"/>
<text transform="translate(1337.7,952.7) scale(1.03,1)" font-size="26.5" text-anchor="middle" fill="#111111" stroke="#111111" stroke-width="0.35">0.0</text>
<line x1="1408.3" y1="906.7" x2="1408.3" y2="920.2" stroke="#404040" stroke-width="2.2"/>
<text transform="translate(1408.3,952.7) scale(1.03,1)" font-size="26.5" text-anchor="middle" fill="#111111" stroke="#111111" stroke-width="0.35">2.0</text>
<line x1="1478.8" y1="906.7" x2="1478.8" y2="920.2" stroke="#404040" stroke-width="2.2"/>
<text transform="translate(1478.8,952.7) scale(1.03,1)" font-size="26.5" text-anchor="middle" fill="#111111" stroke="#111111" stroke-width="0.35">4.0</text>
<line x1="1549.4" y1="906.7" x2="1549.4" y2="920.2" stroke="#404040" stroke-width="2.2"/>
<text transform="translate(1549.4,952.7) scale(1.03,1)" font-size="26.5" text-anchor="middle" fill="#111111" stroke="#111111" stroke-width="0.35">6.0</text>
<line x1="1619.9" y1="906.7" x2="1619.9" y2="920.2" stroke="#404040" stroke-width="2.2"/>
<text transform="translate(1619.9,952.7) scale(1.03,1)" font-size="26.5" text-anchor="middle" fill="#111111" stroke="#111111" stroke-width="0.35">8.0</text>
<text transform="translate(1370.8,991.7) scale(1.04,1)" font-size="26.5" text-anchor="middle" fill="#111111" stroke="#111111" stroke-width="0.35">Coefficient</text>
<text transform="translate(1624.0,245.2) scale(1.042,1)" font-size="36" text-anchor="end" fill="#111111">1.99</text>
<text transform="translate(1630.5,241.6) scale(1.07,1)" font-size="26" text-anchor="start" fill="#111111" stroke="#111111" stroke-width="0.35">(-0.20; 4.19)</text>
<text transform="translate(1624.0,386.2) scale(1.042,1)" font-size="36" text-anchor="end" fill="#111111">0.40</text>
<text transform="translate(1630.5,382.6) scale(1.07,1)" font-size="26" text-anchor="start" fill="#111111" stroke="#111111" stroke-width="0.35">(0.31; 0.49)<tspan font-size="20.5" dy="-4.2">*</tspan></text>
<text transform="translate(1624.0,527.2) scale(1.042,1)" font-size="36" text-anchor="end" fill="#111111">-0.08</text>
<text transform="translate(1630.5,523.6) scale(1.07,1)" font-size="26" text-anchor="start" fill="#111111" stroke="#111111" stroke-width="0.35">(-0.20; 0.04)</text>
<text transform="translate(1624.0,668.2) scale(1.042,1)" font-size="36" text-anchor="end" fill="#111111">-1.06</text>
<text transform="translate(1630.5,664.6) scale(1.07,1)" font-size="26" text-anchor="start" fill="#111111" stroke="#111111" stroke-width="0.35">(-2.98; 0.86)</text>
<text transform="translate(1624.0,809.2) scale(1.042,1)" font-size="36" text-anchor="end" fill="#111111">-2.22</text>
<text transform="translate(1630.5,805.6) scale(1.07,1)" font-size="26" text-anchor="start" fill="#111111" stroke="#111111" stroke-width="0.35">(-5.21; 0.76)</text>
<text transform="translate(1821.2,71.6) scale(0.847,1)" font-size="49.5" font-weight="bold" fill="#000">C)</text>
<text transform="translate(1900.0,75.4) scale(1.0208,1)" font-size="47" fill="#212e50">Chest Expansion</text>
<line x1="2003.6" y1="238.2" x2="2177.0" y2="238.2" stroke="#e3e9f0" stroke-width="3.6"/>
<polygon points="2024.3,236.0 2028.4,235.9 2032.5,235.8 2036.7,235.7 2040.8,235.5 2044.9,235.4 2049.0,235.2 2053.2,234.9 2057.3,234.6 2061.4,234.3 2065.5,234.0 2069.7,233.6 2073.8,233.2 2077.9,232.8 2082.0,232.4 2086.2,231.9 2090.3,231.4 2094.4,231.9 2098.6,232.4 2102.7,232.8 2106.8,233.2 2110.9,233.6 2115.1,234.0 2119.2,234.3 2123.3,234.6 2127.4,234.9 2131.6,235.2 2135.7,235.4 2139.8,235.5 2143.9,235.7 2148.1,235.8 2152.2,235.9 2156.3,236.0 2156.3,240.4 2152.2,240.5 2148.1,240.6 2143.9,240.7 2139.8,240.9 2135.7,241.0 2131.6,241.2 2127.4,241.5 2123.3,241.8 2119.2,242.1 2115.1,242.4 2110.9,242.8 2106.8,243.2 2102.7,243.6 2098.6,244.0 2094.4,244.5 2090.3,244.9 2086.2,244.5 2082.0,244.0 2077.9,243.6 2073.8,243.2 2069.7,242.8 2065.5,242.4 2061.4,242.1 2057.3,241.8 2053.2,241.5 2049.0,241.2 2044.9,241.0 2040.8,240.9 2036.7,240.7 2032.5,240.6 2028.4,240.5 2024.3,240.4" fill="#8fa6bd" opacity="0.35"/>
<polygon points="2024.3,236.6 2028.4,236.5 2032.5,236.4 2036.7,236.3 2040.8,236.2 2044.9,236.0 2049.0,235.8 2053.2,235.6 2057.3,235.4 2061.4,235.1 2065.5,234.8 2069.7,234.5 2073.8,234.1 2077.9,233.7 2082.0,233.3 2086.2,232.9 2090.3,232.4 2094.4,232.9 2098.6,233.3 2102.7,233.7 2106.8,234.1 2110.9,234.5 2115.1,234.8 2119.2,235.1 2123.3,235.4 2127.4,235.6 2131.6,235.8 2135.7,236.0 2139.8,236.2 2143.9,236.3 2148.1,236.4 2152.2,236.5 2156.3,236.6 2156.3,239.8 2152.2,239.9 2148.1,240.0 2143.9,240.1 2139.8,240.2 2135.7,240.4 2131.6,240.6 2127.4,240.8 2123.3,241.0 2119.2,241.3 2115.1,241.6 2110.9,241.9 2106.8,242.3 2102.7,242.7 2098.6,243.1 2094.4,243.5 2090.3,243.9 2086.2,243.5 2082.0,243.1 2077.9,242.7 2073.8,242.3 2069.7,241.9 2065.5,241.6 2061.4,241.3 2057.3,241.0 2053.2,240.8 2049.0,240.6 2044.9,240.4 2040.8,240.2 2036.7,240.1 2032.5,240.0 2028.4,239.9 2024.3,239.8" fill="#1a476f"/>
<line x1="2024.3" y1="229.9" x2="2024.3" y2="246.5" stroke="#1a476f" stroke-width="2.9"/>
<line x1="2156.3" y1="229.9" x2="2156.3" y2="246.5" stroke="#1a476f" stroke-width="2.9"/>
<line x1="2087.3" y1="379.2" x2="2129.3" y2="379.2" stroke="#e3e9f0" stroke-width="3.6"/>
<polygon points="2092.3,377.0 2093.3,376.9 2094.3,376.8 2095.3,376.7 2096.3,376.5 2097.3,376.4 2098.3,376.2 2099.3,375.9 2100.3,375.6 2101.3,375.3 2102.3,375.0 2103.3,374.6 2104.3,374.2 2105.3,373.8 2106.3,373.4 2107.3,372.9 2108.3,372.4 2109.3,372.9 2110.3,373.4 2111.3,373.8 2112.3,374.2 2113.3,374.6 2114.3,375.0 2115.3,375.3 2116.3,375.6 2117.3,375.9 2118.3,376.2 2119.3,376.4 2120.3,376.5 2121.3,376.7 2122.3,376.8 2123.3,376.9 2124.3,377.0 2124.3,381.4 2123.3,381.5 2122.3,381.6 2121.3,381.7 2120.3,381.9 2119.3,382.0 2118.3,382.2 2117.3,382.5 2116.3,382.8 2115.3,383.1 2114.3,383.4 2113.3,383.8 2112.3,384.2 2111.3,384.6 2110.3,385.0 2109.3,385.5 2108.3,385.9 2107.3,385.5 2106.3,385.0 2105.3,384.6 2104.3,384.2 2103.3,383.8 2102.3,383.4 2101.3,383.1 2100.3,382.8 2099.3,382.5 2098.3,382.2 2097.3,382.0 2096.3,381.9 2095.3,381.7 2094.3,381.6 2093.3,381.5 2092.3,381.4" fill="#8fa6bd" opacity="0.35"/>
<polygon points="2092.3,377.6 2093.3,377.5 2094.3,377.4 2095.3,377.3 2096.3,377.2 2097.3,377.0 2098.3,376.8 2099.3,376.6 2100.3,376.4 2101.3,376.1 2102.3,375.8 2103.3,375.5 2104.3,375.1 2105.3,374.7 2106.3,374.3 2107.3,373.9 2108.3,373.4 2109.3,373.9 2110.3,374.3 2111.3,374.7 2112.3,375.1 2113.3,375.5 2114.3,375.8 2115.3,376.1 2116.3,376.4 2117.3,376.6 2118.3,376.8 2119.3,377.0 2120.3,377.2 2121.3,377.3 2122.3,377.4 2123.3,377.5 2124.3,377.6 2124.3,380.8 2123.3,380.9 2122.3,381.0 2121.3,381.1 2120.3,381.2 2119.3,381.4 2118.3,381.6 2117.3,381.8 2116.3,382.0 2115.3,382.3 2114.3,382.6 2113.3,382.9 2112.3,383.3 2111.3,383.7 2110.3,384.1 2109.3,384.5 2108.3,384.9 2107.3,384.5 2106.3,384.1 2105.3,383.7 2104.3,383.3 2103.3,382.9 2102.3,382.6 2101.3,382.3 2100.3,382.0 2099.3,381.8 2098.3,381.6 2097.3,381.4 2096.3,381.2 2095.3,381.1 2094.3,381.0 2093.3,380.9 2092.3,380.8" fill="#1a476f"/>
<line x1="2092.3" y1="370.9" x2="2092.3" y2="387.5" stroke="#1a476f" stroke-width="2.9"/>
<line x1="2124.3" y1="370.9" x2="2124.3" y2="387.5" stroke="#1a476f" stroke-width="2.9"/>
<line x1="2025.3" y1="520.2" x2="2033.1" y2="520.2" stroke="#e3e9f0" stroke-width="3.6"/>
<polygon points="2026.3,518.0 2026.5,517.9 2026.7,517.8 2026.9,517.7 2027.1,517.5 2027.3,517.4 2027.5,517.2 2027.7,516.9 2028.0,516.6 2028.2,516.3 2028.4,516.0 2028.6,515.6 2028.8,515.2 2029.0,514.8 2029.2,514.4 2029.4,513.9 2029.6,513.5 2029.8,513.9 2029.9,514.4 2030.1,514.8 2030.3,515.2 2030.4,515.6 2030.6,516.0 2030.8,516.3 2031.0,516.6 2031.1,516.9 2031.3,517.2 2031.5,517.4 2031.6,517.5 2031.8,517.7 2032.0,517.8 2032.1,517.9 2032.3,518.0 2032.3,522.4 2032.1,522.5 2032.0,522.6 2031.8,522.7 2031.6,522.9 2031.5,523.0 2031.3,523.2 2031.1,523.5 2031.0,523.8 2030.8,524.1 2030.6,524.4 2030.4,524.8 2030.3,525.2 2030.1,525.6 2029.9,526.0 2029.8,526.5 2029.6,527.0 2029.4,526.5 2029.2,526.0 2029.0,525.6 2028.8,525.2 2028.6,524.8 2028.4,524.4 2028.2,524.1 2028.0,523.8 2027.7,523.5 2027.5,523.2 2027.3,523.0 2027.1,522.9 2026.9,522.7 2026.7,522.6 2026.5,522.5 2026.3,522.4" fill="#8fa6bd" opacity="0.35"/>
<polygon points="2026.3,518.6 2026.5,518.5 2026.7,518.4 2026.9,518.3 2027.1,518.2 2027.3,518.0 2027.5,517.8 2027.7,517.6 2028.0,517.4 2028.2,517.1 2028.4,516.8 2028.6,516.5 2028.8,516.1 2029.0,515.7 2029.2,515.3 2029.4,514.9 2029.6,514.5 2029.8,514.9 2029.9,515.3 2030.1,515.7 2030.3,516.1 2030.4,516.5 2030.6,516.8 2030.8,517.1 2031.0,517.4 2031.1,517.6 2031.3,517.8 2031.5,518.0 2031.6,518.2 2031.8,518.3 2032.0,518.4 2032.1,518.5 2032.3,518.6 2032.3,521.8 2032.1,521.9 2032.0,522.0 2031.8,522.1 2031.6,522.2 2031.5,522.4 2031.3,522.6 2031.1,522.8 2031.0,523.0 2030.8,523.3 2030.6,523.6 2030.4,523.9 2030.3,524.3 2030.1,524.7 2029.9,525.1 2029.8,525.5 2029.6,526.0 2029.4,525.5 2029.2,525.1 2029.0,524.7 2028.8,524.3 2028.6,523.9 2028.4,523.6 2028.2,523.3 2028.0,523.0 2027.7,522.8 2027.5,522.6 2027.3,522.4 2027.1,522.2 2026.9,522.1 2026.7,522.0 2026.5,521.9 2026.3,521.8" fill="#1a476f"/>
<line x1="2026.3" y1="511.9" x2="2026.3" y2="528.5" stroke="#1a476f" stroke-width="2.9"/>
<line x1="2032.3" y1="511.9" x2="2032.3" y2="528.5" stroke="#1a476f" stroke-width="2.9"/>
<line x1="1893.4" y1="661.2" x2="2051.2" y2="661.2" stroke="#e3e9f0" stroke-width="3.6"/>
<polygon points="1912.3,659.0 1916.0,658.9 1919.8,658.8 1923.5,658.7 1927.3,658.5 1931.0,658.4 1934.8,658.2 1938.5,657.9 1942.3,657.6 1946.0,657.3 1949.8,657.0 1953.5,656.6 1957.3,656.2 1961.0,655.8 1964.8,655.4 1968.5,654.9 1972.3,654.5 1976.0,654.9 1979.8,655.4 1983.5,655.8 1987.3,656.2 1991.0,656.6 1994.8,657.0 1998.5,657.3 2002.3,657.6 2006.0,657.9 2009.8,658.2 2013.5,658.4 2017.3,658.5 2021.0,658.7 2024.8,658.8 2028.5,658.9 2032.3,659.0 2032.3,663.4 2028.5,663.5 2024.8,663.6 2021.0,663.7 2017.3,663.9 2013.5,664.0 2009.8,664.2 2006.0,664.5 2002.3,664.8 1998.5,665.1 1994.8,665.4 1991.0,665.8 1987.3,666.2 1983.5,666.6 1979.8,667.0 1976.0,667.5 1972.3,668.0 1968.5,667.5 1964.8,667.0 1961.0,666.6 1957.3,666.2 1953.5,665.8 1949.8,665.4 1946.0,665.1 1942.3,664.8 1938.5,664.5 1934.8,664.2 1931.0,664.0 1927.3,663.9 1923.5,663.7 1919.8,663.6 1916.0,663.5 1912.3,663.4" fill="#8fa6bd" opacity="0.35"/>
<polygon points="1912.3,659.6 1916.0,659.5 1919.8,659.4 1923.5,659.3 1927.3,659.2 1931.0,659.0 1934.8,658.8 1938.5,658.6 1942.3,658.4 1946.0,658.1 1949.8,657.8 1953.5,657.5 1957.3,657.1 1961.0,656.7 1964.8,656.3 1968.5,655.9 1972.3,655.5 1976.0,655.9 1979.8,656.3 1983.5,656.7 1987.3,657.1 1991.0,657.5 1994.8,657.8 1998.5,658.1 2002.3,658.4 2006.0,658.6 2009.8,658.8 2013.5,659.0 2017.3,659.2 2021.0,659.3 2024.8,659.4 2028.5,659.5 2032.3,659.6 2032.3,662.8 2028.5,662.9 2024.8,663.0 2021.0,663.1 2017.3,663.2 2013.5,663.4 2009.8,663.6 2006.0,663.8 2002.3,664.0 1998.5,664.3 1994.8,664.6 1991.0,664.9 1987.3,665.3 1983.5,665.7 1979.8,666.1 1976.0,666.5 1972.3,667.0 1968.5,666.5 1964.8,666.1 1961.0,665.7 1957.3,665.3 1953.5,664.9 1949.8,664.6 1946.0,664.3 1942.3,664.0 1938.5,663.8 1934.8,663.6 1931.0,663.4 1927.3,663.2 1923.5,663.1 1919.8,663.0 1916.0,662.9 1912.3,662.8" fill="#1a476f"/>
<line x1="1912.3" y1="652.9" x2="1912.3" y2="669.5" stroke="#1a476f" stroke-width="2.9"/>
<line x1="2032.3" y1="652.9" x2="2032.3" y2="669.5" stroke="#1a476f" stroke-width="2.9"/>
<line x1="1856.1" y1="802.2" x2="2108.5" y2="802.2" stroke="#e3e9f0" stroke-width="3.6"/>
<polygon points="1886.3,800.0 1892.3,799.9 1898.3,799.8 1904.3,799.7 1910.3,799.5 1916.3,799.4 1922.3,799.2 1928.3,798.9 1934.3,798.6 1940.3,798.3 1946.3,798.0 1952.3,797.6 1958.3,797.2 1964.3,796.8 1970.3,796.4 1976.3,795.9 1982.3,795.5 1988.3,795.9 1994.3,796.4 2000.3,796.8 2006.3,797.2 2012.3,797.6 2018.3,798.0 2024.3,798.3 2030.3,798.6 2036.3,798.9 2042.3,799.2 2048.3,799.4 2054.3,799.5 2060.3,799.7 2066.3,799.8 2072.3,799.9 2078.3,800.0 2078.3,804.4 2072.3,804.5 2066.3,804.6 2060.3,804.7 2054.3,804.9 2048.3,805.0 2042.3,805.2 2036.3,805.5 2030.3,805.8 2024.3,806.1 2018.3,806.4 2012.3,806.8 2006.3,807.2 2000.3,807.6 1994.3,808.0 1988.3,808.5 1982.3,809.0 1976.3,808.5 1970.3,808.0 1964.3,807.6 1958.3,807.2 1952.3,806.8 1946.3,806.4 1940.3,806.1 1934.3,805.8 1928.3,805.5 1922.3,805.2 1916.3,805.0 1910.3,804.9 1904.3,804.7 1898.3,804.6 1892.3,804.5 1886.3,804.4" fill="#8fa6bd" opacity="0.35"/>
<polygon points="1886.3,800.6 1892.3,800.5 1898.3,800.4 1904.3,800.3 1910.3,800.2 1916.3,800.0 1922.3,799.8 1928.3,799.6 1934.3,799.4 1940.3,799.1 1946.3,798.8 1952.3,798.5 1958.3,798.1 1964.3,797.7 1970.3,797.3 1976.3,796.9 1982.3,796.5 1988.3,796.9 1994.3,797.3 2000.3,797.7 2006.3,798.1 2012.3,798.5 2018.3,798.8 2024.3,799.1 2030.3,799.4 2036.3,799.6 2042.3,799.8 2048.3,800.0 2054.3,800.2 2060.3,800.3 2066.3,800.4 2072.3,800.5 2078.3,800.6 2078.3,803.8 2072.3,803.9 2066.3,804.0 2060.3,804.1 2054.3,804.2 2048.3,804.4 2042.3,804.6 2036.3,804.8 2030.3,805.0 2024.3,805.3 2018.3,805.6 2012.3,805.9 2006.3,806.3 2000.3,806.7 1994.3,807.1 1988.3,807.5 1982.3,808.0 1976.3,807.5 1970.3,807.1 1964.3,806.7 1958.3,806.3 1952.3,805.9 1946.3,805.6 1940.3,805.3 1934.3,805.0 1928.3,804.8 1922.3,804.6 1916.3,804.4 1910.3,804.2 1904.3,804.1 1898.3,804.0 1892.3,803.9 1886.3,803.8" fill="#1a476f"/>
<line x1="1886.3" y1="793.9" x2="1886.3" y2="810.5" stroke="#1a476f" stroke-width="2.9"/>
<line x1="2078.3" y1="793.9" x2="2078.3" y2="810.5" stroke="#1a476f" stroke-width="2.9"/>
<line x1="1804.2" y1="906.7" x2="2366.0" y2="906.7" stroke="#404040" stroke-width="2.2"/>
<line x1="2032.3" y1="134.0" x2="2032.3" y2="906.7" stroke="#151515" stroke-width="3.0"/>
<polygon points="2080.4,238.2 2090.3,228.3 2100.2,238.2 2090.3,248.1" fill="#8fa6bd" opacity="0.3"/>
<polygon points="2082.9,238.2 2090.3,230.8 2097.7,238.2 2090.3,245.6" fill="#fff" stroke="#1a476f" stroke-width="2.8" stroke-linejoin="miter"/>
<polygon points="2098.4,379.2 2108.3,369.3 2118.2,379.2 2108.3,389.1" fill="#8fa6bd" opacity="0.3"/>
<polygon points="2100.9,379.2 2108.3,371.8 2115.7,379.2 2108.3,386.6" fill="#fff" stroke="#1a476f" stroke-width="2.8" stroke-linejoin="miter"/>
<polygon points="2019.7,520.2 2029.6,510.3 2039.5,520.2 2029.6,530.1" fill="#8fa6bd" opacity="0.3"/>
<polygon points="2022.2,520.2 2029.6,512.8 2037.0,520.2 2029.6,527.6" fill="#fff" stroke="#1a476f" stroke-width="2.8" stroke-linejoin="miter"/>
<polygon points="1962.4,661.2 1972.3,651.3 1982.2,661.2 1972.3,671.1" fill="#8fa6bd" opacity="0.3"/>
<polygon points="1964.9,661.2 1972.3,653.8 1979.7,661.2 1972.3,668.6" fill="#fff" stroke="#1a476f" stroke-width="2.8" stroke-linejoin="miter"/>
<polygon points="1972.4,802.2 1982.3,792.3 1992.2,802.2 1982.3,812.1" fill="#8fa6bd" opacity="0.3"/>
<polygon points="1974.9,802.2 1982.3,794.8 1989.7,802.2 1982.3,809.6" fill="#fff" stroke="#1a476f" stroke-width="2.8" stroke-linejoin="miter"/>
<line x1="1832.3" y1="906.7" x2="1832.3" y2="920.2" stroke="#404040" stroke-width="2.2"/>
<text transform="translate(1832.3,952.7) scale(1.03,1)" font-size="26.5" text-anchor="middle" fill="#111111" stroke="#111111" stroke-width="0.35">-1.0</text>
<line x1="1932.3" y1="906.7" x2="1932.3" y2="920.2" stroke="#404040" stroke-width="2.2"/>
<text transform="translate(1932.3,952.7) scale(1.03,1)" font-size="26.5" text-anchor="middle" fill="#111111" stroke="#111111" stroke-width="0.35">-0.5</text>
<line x1="2032.3" y1="906.7" x2="2032.3" y2="920.2" stroke="#404040" stroke-width="2.2"/>
<text transform="translate(2032.3,952.7) scale(1.03,1)" font-size="26.5" text-anchor="middle" fill="#111111" stroke="#111111" stroke-width="0.35">0.0</text>
<line x1="2132.3" y1="906.7" x2="2132.3" y2="920.2" stroke="#404040" stroke-width="2.2"/>
<text transform="translate(2132.3,952.7) scale(1.03,1)" font-size="26.5" text-anchor="middle" fill="#111111" stroke="#111111" stroke-width="0.35">0.5</text>
<line x1="2232.3" y1="906.7" x2="2232.3" y2="920.2" stroke="#404040" stroke-width="2.2"/>
<text transform="translate(2232.3,952.7) scale(1.03,1)" font-size="26.5" text-anchor="middle" fill="#111111" stroke="#111111" stroke-width="0.35">1.0</text>
<line x1="2332.3" y1="906.7" x2="2332.3" y2="920.2" stroke="#404040" stroke-width="2.2"/>
<text transform="translate(2332.3,952.7) scale(1.03,1)" font-size="26.5" text-anchor="middle" fill="#111111" stroke="#111111" stroke-width="0.35">1.5</text>
<text transform="translate(2082.1,991.7) scale(1.04,1)" font-size="26.5" text-anchor="middle" fill="#111111" stroke="#111111" stroke-width="0.35">Coefficient</text>
<text transform="translate(2307.0,245.2) scale(1.042,1)" font-size="36" text-anchor="end" fill="#111111">0.29</text>
<text transform="translate(2315.0,241.6) scale(1.07,1)" font-size="26" text-anchor="start" fill="#111111" stroke="#111111" stroke-width="0.35">(-0.04; 0.62)</text>
<text transform="translate(2307.0,386.2) scale(1.042,1)" font-size="36" text-anchor="end" fill="#111111">0.38</text>
<text transform="translate(2315.0,382.6) scale(1.07,1)" font-size="26" text-anchor="start" fill="#111111" stroke="#111111" stroke-width="0.35">(0.30; 0.46)<tspan font-size="20.5" dy="-4.2">*</tspan></text>
<text transform="translate(2307.0,527.2) scale(1.042,1)" font-size="36" text-anchor="end" fill="#111111">-0.01</text>
<text transform="translate(2315.0,523.6) scale(1.07,1)" font-size="26" text-anchor="start" fill="#111111" stroke="#111111" stroke-width="0.35">(-0.03; 0.00)</text>
<text transform="translate(2307.0,668.2) scale(1.042,1)" font-size="36" text-anchor="end" fill="#111111">-0.30</text>
<text transform="translate(2315.0,664.6) scale(1.07,1)" font-size="26" text-anchor="start" fill="#111111" stroke="#111111" stroke-width="0.35">(-0.60; -0.00)<tspan font-size="20.5" dy="-4.2">*</tspan></text>
<text transform="translate(2307.0,809.2) scale(1.042,1)" font-size="36" text-anchor="end" fill="#111111">-0.25</text>
<text transform="translate(2315.0,805.6) scale(1.07,1)" font-size="26" text-anchor="start" fill="#111111" stroke="#111111" stroke-width="0.35">(-0.73; 0.23)</text>
<text transform="translate(285.8,1110.0) scale(0.976,1)" font-size="49.5" font-weight="bold" fill="#000">D)</text>
<text transform="translate(427.1,1116.2) scale(1.0216,1)" font-size="47" fill="#212e50">Lateral Spinal Flexion</text>
<line x1="620.4" y1="1279.0" x2="776.9" y2="1279.0" stroke="#e3e9f0" stroke-width="3.6"/>
<polygon points="639.2,1276.8 643.0,1276.7 646.7,1276.6 650.5,1276.5 654.2,1276.3 657.9,1276.2 661.7,1276.0 665.4,1275.7 669.2,1275.4 672.9,1275.1 676.6,1274.8 680.4,1274.4 684.1,1274.0 687.9,1273.6 691.6,1273.2 695.3,1272.7 699.1,1272.2 702.8,1272.7 706.5,1273.2 710.2,1273.6 713.9,1274.0 717.6,1274.4 721.3,1274.8 725.0,1275.1 728.7,1275.4 732.4,1275.7 736.1,1276.0 739.8,1276.2 743.5,1276.3 747.2,1276.5 750.9,1276.6 754.6,1276.7 758.3,1276.8 758.3,1281.2 754.6,1281.3 750.9,1281.4 747.2,1281.5 743.5,1281.7 739.8,1281.8 736.1,1282.0 732.4,1282.3 728.7,1282.6 725.0,1282.9 721.3,1283.2 717.6,1283.6 713.9,1284.0 710.2,1284.4 706.5,1284.8 702.8,1285.3 699.1,1285.8 695.3,1285.3 691.6,1284.8 687.9,1284.4 684.1,1284.0 680.4,1283.6 676.6,1283.2 672.9,1282.9 669.2,1282.6 665.4,1282.3 661.7,1282.0 657.9,1281.8 654.2,1281.7 650.5,1281.5 646.7,1281.4 643.0,1281.3 639.2,1281.2" fill="#8fa6bd" opacity="0.35"/>
<polygon points="639.2,1277.4 643.0,1277.3 646.7,1277.2 650.5,1277.1 654.2,1277.0 657.9,1276.8 661.7,1276.6 665.4,1276.4 669.2,1276.2 672.9,1275.9 676.6,1275.6 680.4,1275.3 684.1,1274.9 687.9,1274.5 691.6,1274.1 695.3,1273.7 699.1,1273.2 702.8,1273.7 706.5,1274.1 710.2,1274.5 713.9,1274.9 717.6,1275.3 721.3,1275.6 725.0,1275.9 728.7,1276.2 732.4,1276.4 736.1,1276.6 739.8,1276.8 743.5,1277.0 747.2,1277.1 750.9,1277.2 754.6,1277.3 758.3,1277.4 758.3,1280.6 754.6,1280.7 750.9,1280.8 747.2,1280.9 743.5,1281.0 739.8,1281.2 736.1,1281.4 732.4,1281.6 728.7,1281.8 725.0,1282.1 721.3,1282.4 717.6,1282.7 713.9,1283.1 710.2,1283.5 706.5,1283.9 702.8,1284.3 699.1,1284.8 695.3,1284.3 691.6,1283.9 687.9,1283.5 684.1,1283.1 680.4,1282.7 676.6,1282.4 672.9,1282.1 669.2,1281.8 665.4,1281.6 661.7,1281.4 657.9,1281.2 654.2,1281.0 650.5,1280.9 646.7,1280.8 643.0,1280.7 639.2,1280.6" fill="#1a476f"/>
<line x1="639.2" y1="1270.7" x2="639.2" y2="1287.3" stroke="#1a476f" stroke-width="2.9"/>
<line x1="758.3" y1="1270.7" x2="758.3" y2="1287.3" stroke="#1a476f" stroke-width="2.9"/>
<line x1="668.2" y1="1420.0" x2="683.0" y2="1420.0" stroke="#e3e9f0" stroke-width="3.6"/>
<polygon points="669.8,1417.8 670.2,1417.7 670.5,1417.6 670.8,1417.5 671.2,1417.3 671.5,1417.2 671.8,1417.0 672.2,1416.7 672.5,1416.4 672.8,1416.1 673.2,1415.8 673.5,1415.4 673.8,1415.0 674.2,1414.6 674.5,1414.2 674.8,1413.7 675.1,1413.2 675.5,1413.7 675.9,1414.2 676.3,1414.6 676.6,1415.0 677.0,1415.4 677.4,1415.8 677.8,1416.1 678.1,1416.4 678.5,1416.7 678.9,1417.0 679.3,1417.2 679.6,1417.3 680.0,1417.5 680.4,1417.6 680.8,1417.7 681.1,1417.8 681.1,1422.2 680.8,1422.3 680.4,1422.4 680.0,1422.5 679.6,1422.7 679.3,1422.8 678.9,1423.0 678.5,1423.3 678.1,1423.6 677.8,1423.9 677.4,1424.2 677.0,1424.6 676.6,1425.0 676.3,1425.4 675.9,1425.8 675.5,1426.3 675.1,1426.8 674.8,1426.3 674.5,1425.8 674.2,1425.4 673.8,1425.0 673.5,1424.6 673.2,1424.2 672.8,1423.9 672.5,1423.6 672.2,1423.3 671.8,1423.0 671.5,1422.8 671.2,1422.7 670.8,1422.5 670.5,1422.4 670.2,1422.3 669.8,1422.2" fill="#8fa6bd" opacity="0.35"/>
<polygon points="669.8,1418.4 670.2,1418.3 670.5,1418.2 670.8,1418.1 671.2,1418.0 671.5,1417.8 671.8,1417.6 672.2,1417.4 672.5,1417.2 672.8,1416.9 673.2,1416.6 673.5,1416.3 673.8,1415.9 674.2,1415.5 674.5,1415.1 674.8,1414.7 675.1,1414.2 675.5,1414.7 675.9,1415.1 676.3,1415.5 676.6,1415.9 677.0,1416.3 677.4,1416.6 677.8,1416.9 678.1,1417.2 678.5,1417.4 678.9,1417.6 679.3,1417.8 679.6,1418.0 680.0,1418.1 680.4,1418.2 680.8,1418.3 681.1,1418.4 681.1,1421.6 680.8,1421.7 680.4,1421.8 680.0,1421.9 679.6,1422.0 679.3,1422.2 678.9,1422.4 678.5,1422.6 678.1,1422.8 677.8,1423.1 677.4,1423.4 677.0,1423.7 676.6,1424.1 676.3,1424.5 675.9,1424.9 675.5,1425.3 675.1,1425.8 674.8,1425.3 674.5,1424.9 674.2,1424.5 673.8,1424.1 673.5,1423.7 673.2,1423.4 672.8,1423.1 672.5,1422.8 672.2,1422.6 671.8,1422.4 671.5,1422.2 671.2,1422.0 670.8,1421.9 670.5,1421.8 670.2,1421.7 669.8,1421.6" fill="#1a476f"/>
<line x1="669.8" y1="1411.7" x2="669.8" y2="1428.3" stroke="#1a476f" stroke-width="2.9"/>
<line x1="681.1" y1="1411.7" x2="681.1" y2="1428.3" stroke="#1a476f" stroke-width="2.9"/>
<line x1="631.5" y1="1561.0" x2="640.3" y2="1561.0" stroke="#e3e9f0" stroke-width="3.6"/>
<polygon points="632.6,1558.8 632.8,1558.7 633.0,1558.6 633.2,1558.5 633.4,1558.3 633.6,1558.2 633.8,1558.0 634.0,1557.7 634.3,1557.4 634.5,1557.1 634.7,1556.8 634.9,1556.4 635.1,1556.0 635.3,1555.6 635.5,1555.2 635.7,1554.7 635.9,1554.2 636.1,1554.7 636.3,1555.2 636.5,1555.6 636.7,1556.0 637.0,1556.4 637.2,1556.8 637.4,1557.1 637.6,1557.4 637.8,1557.7 638.0,1558.0 638.2,1558.2 638.4,1558.3 638.6,1558.5 638.8,1558.6 639.0,1558.7 639.2,1558.8 639.2,1563.2 639.0,1563.3 638.8,1563.4 638.6,1563.5 638.4,1563.7 638.2,1563.8 638.0,1564.0 637.8,1564.3 637.6,1564.6 637.4,1564.9 637.2,1565.2 637.0,1565.6 636.7,1566.0 636.5,1566.4 636.3,1566.8 636.1,1567.3 635.9,1567.8 635.7,1567.3 635.5,1566.8 635.3,1566.4 635.1,1566.0 634.9,1565.6 634.7,1565.2 634.5,1564.9 634.3,1564.6 634.0,1564.3 633.8,1564.0 633.6,1563.8 633.4,1563.7 633.2,1563.5 633.0,1563.4 632.8,1563.3 632.6,1563.2" fill="#8fa6bd" opacity="0.35"/>
<polygon points="632.6,1559.4 632.8,1559.3 633.0,1559.2 633.2,1559.1 633.4,1559.0 633.6,1558.8 633.8,1558.6 634.0,1558.4 634.3,1558.2 634.5,1557.9 634.7,1557.6 634.9,1557.3 635.1,1556.9 635.3,1556.5 635.5,1556.1 635.7,1555.7 635.9,1555.2 636.1,1555.7 636.3,1556.1 636.5,1556.5 636.7,1556.9 637.0,1557.3 637.2,1557.6 637.4,1557.9 637.6,1558.2 637.8,1558.4 638.0,1558.6 638.2,1558.8 638.4,1559.0 638.6,1559.1 638.8,1559.2 639.0,1559.3 639.2,1559.4 639.2,1562.6 639.0,1562.7 638.8,1562.8 638.6,1562.9 638.4,1563.0 638.2,1563.2 638.0,1563.4 637.8,1563.6 637.6,1563.8 637.4,1564.1 637.2,1564.4 637.0,1564.7 636.7,1565.1 636.5,1565.5 636.3,1565.9 636.1,1566.3 635.9,1566.8 635.7,1566.3 635.5,1565.9 635.3,1565.5 635.1,1565.1 634.9,1564.7 634.7,1564.4 634.5,1564.1 634.3,1563.8 634.0,1563.6 633.8,1563.4 633.6,1563.2 633.4,1563.0 633.2,1562.9 633.0,1562.8 632.8,1562.7 632.6,1562.6" fill="#1a476f"/>
<line x1="632.6" y1="1552.7" x2="632.6" y2="1569.3" stroke="#1a476f" stroke-width="2.9"/>
<line x1="639.2" y1="1552.7" x2="639.2" y2="1569.3" stroke="#1a476f" stroke-width="2.9"/>
<line x1="485.8" y1="1702.0" x2="630.0" y2="1702.0" stroke="#e3e9f0" stroke-width="3.6"/>
<polygon points="502.9,1699.8 506.3,1699.7 509.7,1699.6 513.1,1699.5 516.5,1699.3 520.0,1699.2 523.4,1699.0 526.8,1698.7 530.2,1698.4 533.6,1698.1 537.0,1697.8 540.4,1697.4 543.8,1697.0 547.2,1696.6 550.6,1696.2 554.0,1695.7 557.4,1695.2 560.9,1695.7 564.3,1696.2 567.8,1696.6 571.2,1697.0 574.7,1697.4 578.1,1697.8 581.6,1698.1 585.0,1698.4 588.5,1698.7 591.9,1699.0 595.4,1699.2 598.8,1699.3 602.3,1699.5 605.7,1699.6 609.2,1699.7 612.6,1699.8 612.6,1704.2 609.2,1704.3 605.7,1704.4 602.3,1704.5 598.8,1704.7 595.4,1704.8 591.9,1705.0 588.5,1705.3 585.0,1705.6 581.6,1705.9 578.1,1706.2 574.7,1706.6 571.2,1707.0 567.8,1707.4 564.3,1707.8 560.9,1708.3 557.4,1708.8 554.0,1708.3 550.6,1707.8 547.2,1707.4 543.8,1707.0 540.4,1706.6 537.0,1706.2 533.6,1705.9 530.2,1705.6 526.8,1705.3 523.4,1705.0 520.0,1704.8 516.5,1704.7 513.1,1704.5 509.7,1704.4 506.3,1704.3 502.9,1704.2" fill="#8fa6bd" opacity="0.35"/>
<polygon points="502.9,1700.4 506.3,1700.3 509.7,1700.2 513.1,1700.1 516.5,1700.0 520.0,1699.8 523.4,1699.6 526.8,1699.4 530.2,1699.2 533.6,1698.9 537.0,1698.6 540.4,1698.3 543.8,1697.9 547.2,1697.5 550.6,1697.1 554.0,1696.7 557.4,1696.2 560.9,1696.7 564.3,1697.1 567.8,1697.5 571.2,1697.9 574.7,1698.3 578.1,1698.6 581.6,1698.9 585.0,1699.2 588.5,1699.4 591.9,1699.6 595.4,1699.8 598.8,1700.0 602.3,1700.1 605.7,1700.2 609.2,1700.3 612.6,1700.4 612.6,1703.6 609.2,1703.7 605.7,1703.8 602.3,1703.9 598.8,1704.0 595.4,1704.2 591.9,1704.4 588.5,1704.6 585.0,1704.8 581.6,1705.1 578.1,1705.4 574.7,1705.7 571.2,1706.1 567.8,1706.5 564.3,1706.9 560.9,1707.3 557.4,1707.8 554.0,1707.3 550.6,1706.9 547.2,1706.5 543.8,1706.1 540.4,1705.7 537.0,1705.4 533.6,1705.1 530.2,1704.8 526.8,1704.6 523.4,1704.4 520.0,1704.2 516.5,1704.0 513.1,1703.9 509.7,1703.8 506.3,1703.7 502.9,1703.6" fill="#1a476f"/>
<line x1="502.9" y1="1693.7" x2="502.9" y2="1710.3" stroke="#1a476f" stroke-width="2.9"/>
<line x1="612.6" y1="1693.7" x2="612.6" y2="1710.3" stroke="#1a476f" stroke-width="2.9"/>
<line x1="427.6" y1="1843.0" x2="623.4" y2="1843.0" stroke="#e3e9f0" stroke-width="3.6"/>
<polygon points="451.0,1840.8 455.7,1840.7 460.4,1840.6 465.0,1840.5 469.7,1840.3 474.3,1840.2 479.0,1840.0 483.6,1839.7 488.3,1839.4 492.9,1839.1 497.6,1838.8 502.2,1838.4 506.9,1838.0 511.6,1837.6 516.2,1837.2 520.9,1836.7 525.5,1836.2 530.2,1836.7 534.8,1837.2 539.5,1837.6 544.1,1838.0 548.8,1838.4 553.5,1838.8 558.1,1839.1 562.8,1839.4 567.4,1839.7 572.1,1840.0 576.7,1840.2 581.4,1840.3 586.0,1840.5 590.7,1840.6 595.4,1840.7 600.0,1840.8 600.0,1845.2 595.4,1845.3 590.7,1845.4 586.0,1845.5 581.4,1845.7 576.7,1845.8 572.1,1846.0 567.4,1846.3 562.8,1846.6 558.1,1846.9 553.5,1847.2 548.8,1847.6 544.1,1848.0 539.5,1848.4 534.8,1848.8 530.2,1849.3 525.5,1849.8 520.9,1849.3 516.2,1848.8 511.6,1848.4 506.9,1848.0 502.2,1847.6 497.6,1847.2 492.9,1846.9 488.3,1846.6 483.6,1846.3 479.0,1846.0 474.3,1845.8 469.7,1845.7 465.0,1845.5 460.4,1845.4 455.7,1845.3 451.0,1845.2" fill="#8fa6bd" opacity="0.35"/>
<polygon points="451.0,1841.4 455.7,1841.3 460.4,1841.2 465.0,1841.1 469.7,1841.0 474.3,1840.8 479.0,1840.6 483.6,1840.4 488.3,1840.2 492.9,1839.9 497.6,1839.6 502.2,1839.3 506.9,1838.9 511.6,1838.5 516.2,1838.1 520.9,1837.7 525.5,1837.2 530.2,1837.7 534.8,1838.1 539.5,1838.5 544.1,1838.9 548.8,1839.3 553.5,1839.6 558.1,1839.9 562.8,1840.2 567.4,1840.4 572.1,1840.6 576.7,1840.8 581.4,1841.0 586.0,1841.1 590.7,1841.2 595.4,1841.3 600.0,1841.4 600.0,1844.6 595.4,1844.7 590.7,1844.8 586.0,1844.9 581.4,1845.0 576.7,1845.2 572.1,1845.4 567.4,1845.6 562.8,1845.8 558.1,1846.1 553.5,1846.4 548.8,1846.7 544.1,1847.1 539.5,1847.5 534.8,1847.9 530.2,1848.3 525.5,1848.8 520.9,1848.3 516.2,1847.9 511.6,1847.5 506.9,1847.1 502.2,1846.7 497.6,1846.4 492.9,1846.1 488.3,1845.8 483.6,1845.6 479.0,1845.4 474.3,1845.2 469.7,1845.0 465.0,1844.9 460.4,1844.8 455.7,1844.7 451.0,1844.6" fill="#1a476f"/>
<line x1="451.0" y1="1834.7" x2="451.0" y2="1851.3" stroke="#1a476f" stroke-width="2.9"/>
<line x1="600.0" y1="1834.7" x2="600.0" y2="1851.3" stroke="#1a476f" stroke-width="2.9"/>
<line x1="372.9" y1="1947.5" x2="942.5" y2="1947.5" stroke="#404040" stroke-width="2.2"/>
<line x1="374.0" y1="1174.8" x2="374.0" y2="1948.6" stroke="#404040" stroke-width="2.2"/>
<line x1="360.5" y1="1279.0" x2="374.0" y2="1279.0" stroke="#404040" stroke-width="2.2"/>
<text transform="translate(352.9,1272.8) scale(1.045,1)" font-size="36.5" text-anchor="end" fill="#111111">axSpA</text>
<text transform="translate(352.9,1310.2) scale(1.045,1)" font-size="36.5" text-anchor="end" fill="#111111">(<tspan font-style="italic">vs</tspan> non-axSpA)</text>
<line x1="360.5" y1="1420.0" x2="374.0" y2="1420.0" stroke="#404040" stroke-width="2.2"/>
<text transform="translate(352.9,1413.8) scale(1.045,1)" font-size="36.5" text-anchor="end" fill="#111111">Baseline</text>
<text transform="translate(352.9,1451.2) scale(1.045,1)" font-size="36.5" text-anchor="end" fill="#111111">score</text>
<line x1="360.5" y1="1561.0" x2="374.0" y2="1561.0" stroke="#404040" stroke-width="2.2"/>
<text transform="translate(352.9,1554.8) scale(1.045,1)" font-size="36.5" text-anchor="end" fill="#111111">Age at</text>
<text transform="translate(352.9,1592.2) scale(1.045,1)" font-size="36.5" text-anchor="end" fill="#111111">baseline</text>
<line x1="360.5" y1="1702.0" x2="374.0" y2="1702.0" stroke="#404040" stroke-width="2.2"/>
<text transform="translate(352.9,1695.8) scale(1.045,1)" font-size="36.5" text-anchor="end" fill="#111111">Female</text>
<text transform="translate(352.9,1733.2) scale(1.045,1)" font-size="36.5" text-anchor="end" fill="#111111">(<tspan font-style="italic">vs</tspan> male)</text>
<line x1="360.5" y1="1843.0" x2="374.0" y2="1843.0" stroke="#404040" stroke-width="2.2"/>
<text transform="translate(352.9,1836.8) scale(1.045,1)" font-size="36.5" text-anchor="end" fill="#111111">NSAIDs use: ever</text>
<text transform="translate(352.9,1874.2) scale(1.045,1)" font-size="36.5" text-anchor="end" fill="#111111">(<tspan font-style="italic">vs</tspan> never)</text>
<line x1="641.9" y1="1174.8" x2="641.9" y2="1947.5" stroke="#151515" stroke-width="3.0"/>
<polygon points="689.2,1279.0 699.1,1269.1 709.0,1279.0 699.1,1288.9" fill="#8fa6bd" opacity="0.3"/>
<polygon points="691.7,1279.0 699.1,1271.6 706.5,1279.0 699.1,1286.4" fill="#fff" stroke="#1a476f" stroke-width="2.8" stroke-linejoin="miter"/>
<polygon points="665.2,1420.0 675.1,1410.1 685.0,1420.0 675.1,1429.9" fill="#8fa6bd" opacity="0.3"/>
<polygon points="667.8,1420.0 675.1,1412.6 682.5,1420.0 675.1,1427.4" fill="#fff" stroke="#1a476f" stroke-width="2.8" stroke-linejoin="miter"/>
<polygon points="626.0,1561.0 635.9,1551.1 645.8,1561.0 635.9,1570.9" fill="#8fa6bd" opacity="0.3"/>
<polygon points="628.5,1561.0 635.9,1553.6 643.3,1561.0 635.9,1568.4" fill="#fff" stroke="#1a476f" stroke-width="2.8" stroke-linejoin="miter"/>
<polygon points="547.5,1702.0 557.4,1692.1 567.3,1702.0 557.4,1711.9" fill="#8fa6bd" opacity="0.3"/>
<polygon points="550.0,1702.0 557.4,1694.6 564.8,1702.0 557.4,1709.4" fill="#fff" stroke="#1a476f" stroke-width="2.8" stroke-linejoin="miter"/>
<polygon points="515.6,1843.0 525.5,1833.1 535.4,1843.0 525.5,1852.9" fill="#8fa6bd" opacity="0.3"/>
<polygon points="518.1,1843.0 525.5,1835.6 532.9,1843.0 525.5,1850.4" fill="#fff" stroke="#1a476f" stroke-width="2.8" stroke-linejoin="miter"/>
<line x1="409.1" y1="1947.5" x2="409.1" y2="1961.0" stroke="#404040" stroke-width="2.2"/>
<text transform="translate(409.1,1993.5) scale(1.03,1)" font-size="26.5" text-anchor="middle" fill="#111111" stroke="#111111" stroke-width="0.35">-3.5</text>
<line x1="475.6" y1="1947.5" x2="475.6" y2="1961.0" stroke="#404040" stroke-width="2.2"/>
<text transform="translate(475.6,1993.5) scale(1.03,1)" font-size="26.5" text-anchor="middle" fill="#111111" stroke="#111111" stroke-width="0.35">-2.5</text>
<line x1="542.1" y1="1947.5" x2="542.1" y2="1961.0" stroke="#404040" stroke-width="2.2"/>
<text transform="translate(542.1,1993.5) scale(1.03,1)" font-size="26.5" text-anchor="middle" fill="#111111" stroke="#111111" stroke-width="0.35">-1.5</text>
<line x1="608.6" y1="1947.5" x2="608.6" y2="1961.0" stroke="#404040" stroke-width="2.2"/>
<text transform="translate(608.6,1993.5) scale(1.03,1)" font-size="26.5" text-anchor="middle" fill="#111111" stroke="#111111" stroke-width="0.35">-0.5</text>
<line x1="675.1" y1="1947.5" x2="675.1" y2="1961.0" stroke="#404040" stroke-width="2.2"/>
<text transform="translate(675.1,1993.5) scale(1.03,1)" font-size="26.5" text-anchor="middle" fill="#111111" stroke="#111111" stroke-width="0.35">0.5</text>
<line x1="741.6" y1="1947.5" x2="741.6" y2="1961.0" stroke="#404040" stroke-width="2.2"/>
<text transform="translate(741.6,1993.5) scale(1.03,1)" font-size="26.5" text-anchor="middle" fill="#111111" stroke="#111111" stroke-width="0.35">1.5</text>
<line x1="808.1" y1="1947.5" x2="808.1" y2="1961.0" stroke="#404040" stroke-width="2.2"/>
<text transform="translate(808.1,1993.5) scale(1.03,1)" font-size="26.5" text-anchor="middle" fill="#111111" stroke="#111111" stroke-width="0.35">2.5</text>
<line x1="874.6" y1="1947.5" x2="874.6" y2="1961.0" stroke="#404040" stroke-width="2.2"/>
<text transform="translate(874.6,1993.5) scale(1.03,1)" font-size="26.5" text-anchor="middle" fill="#111111" stroke="#111111" stroke-width="0.35">3.5</text>
<text transform="translate(657.7,2032.5) scale(1.04,1)" font-size="26.5" text-anchor="middle" fill="#111111" stroke="#111111" stroke-width="0.35">Coefficient</text>
<text transform="translate(884.0,1286.0) scale(1.042,1)" font-size="36" text-anchor="end" fill="#111111">0.86</text>
<text transform="translate(892.0,1282.4) scale(1.07,1)" font-size="26" text-anchor="start" fill="#111111" stroke="#111111" stroke-width="0.35">(-0.04; 1.75)</text>
<text transform="translate(884.0,1427.0) scale(1.042,1)" font-size="36" text-anchor="end" fill="#111111">0.50</text>
<text transform="translate(892.0,1423.4) scale(1.07,1)" font-size="26" text-anchor="start" fill="#111111" stroke="#111111" stroke-width="0.35">(0.42; 0.59)<tspan font-size="20.5" dy="-4.2">*</tspan></text>
<text transform="translate(884.0,1568.0) scale(1.042,1)" font-size="36" text-anchor="end" fill="#111111">-0.09</text>
<text transform="translate(892.0,1564.4) scale(1.07,1)" font-size="26" text-anchor="start" fill="#111111" stroke="#111111" stroke-width="0.35">(-0.14; -0.04)<tspan font-size="20.5" dy="-4.2">*</tspan></text>
<text transform="translate(884.0,1709.0) scale(1.042,1)" font-size="36" text-anchor="end" fill="#111111">-1.27</text>
<text transform="translate(892.0,1705.4) scale(1.07,1)" font-size="26" text-anchor="start" fill="#111111" stroke="#111111" stroke-width="0.35">(-2.09; -0.44)<tspan font-size="20.5" dy="-4.2">*</tspan></text>
<text transform="translate(884.0,1850.0) scale(1.042,1)" font-size="36" text-anchor="end" fill="#111111">-1.75</text>
<text transform="translate(892.0,1846.4) scale(1.07,1)" font-size="26" text-anchor="start" fill="#111111" stroke="#111111" stroke-width="0.35">(-2.87; -0.63)<tspan font-size="20.5" dy="-4.2">*</tspan></text>
<text transform="translate(1081.5,1111.9) scale(0.833,1)" font-size="49.5" font-weight="bold" fill="#000">E)</text>
<text transform="translate(1157.8,1116.2) scale(1.0196,1)" font-size="47" fill="#212e50">Modified Schober Test</text>
<line x1="1202.4" y1="1279.0" x2="1479.5" y2="1279.0" stroke="#e3e9f0" stroke-width="3.6"/>
<polygon points="1234.9,1276.8 1241.3,1276.7 1247.7,1276.6 1254.2,1276.5 1260.6,1276.3 1267.1,1276.2 1273.5,1276.0 1280.0,1275.7 1286.4,1275.4 1292.9,1275.1 1299.3,1274.8 1305.8,1274.4 1312.2,1274.0 1318.7,1273.6 1325.1,1273.2 1331.6,1272.7 1338.0,1272.2 1344.7,1272.7 1351.5,1273.2 1358.2,1273.6 1364.9,1274.0 1371.6,1274.4 1378.4,1274.8 1385.1,1275.1 1391.8,1275.4 1398.6,1275.7 1405.3,1276.0 1412.0,1276.2 1418.7,1276.3 1425.5,1276.5 1432.2,1276.6 1438.9,1276.7 1445.7,1276.8 1445.7,1281.2 1438.9,1281.3 1432.2,1281.4 1425.5,1281.5 1418.7,1281.7 1412.0,1281.8 1405.3,1282.0 1398.6,1282.3 1391.8,1282.6 1385.1,1282.9 1378.4,1283.2 1371.6,1283.6 1364.9,1284.0 1358.2,1284.4 1351.5,1284.8 1344.7,1285.3 1338.0,1285.8 1331.6,1285.3 1325.1,1284.8 1318.7,1284.4 1312.2,1284.0 1305.8,1283.6 1299.3,1283.2 1292.9,1282.9 1286.4,1282.6 1280.0,1282.3 1273.5,1282.0 1267.1,1281.8 1260.6,1281.7 1254.2,1281.5 1247.7,1281.4 1241.3,1281.3 1234.9,1281.2" fill="#8fa6bd" opacity="0.35"/>
<polygon points="1234.9,1277.4 1241.3,1277.3 1247.7,1277.2 1254.2,1277.1 1260.6,1277.0 1267.1,1276.8 1273.5,1276.6 1280.0,1276.4 1286.4,1276.2 1292.9,1275.9 1299.3,1275.6 1305.8,1275.3 1312.2,1274.9 1318.7,1274.5 1325.1,1274.1 1331.6,1273.7 1338.0,1273.2 1344.7,1273.7 1351.5,1274.1 1358.2,1274.5 1364.9,1274.9 1371.6,1275.3 1378.4,1275.6 1385.1,1275.9 1391.8,1276.2 1398.6,1276.4 1405.3,1276.6 1412.0,1276.8 1418.7,1277.0 1425.5,1277.1 1432.2,1277.2 1438.9,1277.3 1445.7,1277.4 1445.7,1280.6 1438.9,1280.7 1432.2,1280.8 1425.5,1280.9 1418.7,1281.0 1412.0,1281.2 1405.3,1281.4 1398.6,1281.6 1391.8,1281.8 1385.1,1282.1 1378.4,1282.4 1371.6,1282.7 1364.9,1283.1 1358.2,1283.5 1351.5,1283.9 1344.7,1284.3 1338.0,1284.8 1331.6,1284.3 1325.1,1283.9 1318.7,1283.5 1312.2,1283.1 1305.8,1282.7 1299.3,1282.4 1292.9,1282.1 1286.4,1281.8 1280.0,1281.6 1273.5,1281.4 1267.1,1281.2 1260.6,1281.0 1254.2,1280.9 1247.7,1280.8 1241.3,1280.7 1234.9,1280.6" fill="#1a476f"/>
<line x1="1234.9" y1="1270.7" x2="1234.9" y2="1287.3" stroke="#1a476f" stroke-width="2.9"/>
<line x1="1445.7" y1="1270.7" x2="1445.7" y2="1287.3" stroke="#1a476f" stroke-width="2.9"/>
<line x1="1379.1" y1="1420.0" x2="1485.2" y2="1420.0" stroke="#e3e9f0" stroke-width="3.6"/>
<polygon points="1391.8,1417.8 1394.4,1417.7 1396.9,1417.6 1399.4,1417.5 1401.9,1417.3 1404.4,1417.2 1407.0,1417.0 1409.5,1416.7 1412.0,1416.4 1414.5,1416.1 1417.1,1415.8 1419.6,1415.4 1422.1,1415.0 1424.6,1414.6 1427.1,1414.2 1429.7,1413.7 1432.2,1413.2 1434.7,1413.7 1437.2,1414.2 1439.8,1414.6 1442.3,1415.0 1444.8,1415.4 1447.3,1415.8 1449.9,1416.1 1452.4,1416.4 1454.9,1416.7 1457.4,1417.0 1459.9,1417.2 1462.5,1417.3 1465.0,1417.5 1467.5,1417.6 1470.0,1417.7 1472.6,1417.8 1472.6,1422.2 1470.0,1422.3 1467.5,1422.4 1465.0,1422.5 1462.5,1422.7 1459.9,1422.8 1457.4,1423.0 1454.9,1423.3 1452.4,1423.6 1449.9,1423.9 1447.3,1424.2 1444.8,1424.6 1442.3,1425.0 1439.8,1425.4 1437.2,1425.8 1434.7,1426.3 1432.2,1426.8 1429.7,1426.3 1427.1,1425.8 1424.6,1425.4 1422.1,1425.0 1419.6,1424.6 1417.1,1424.2 1414.5,1423.9 1412.0,1423.6 1409.5,1423.3 1407.0,1423.0 1404.4,1422.8 1401.9,1422.7 1399.4,1422.5 1396.9,1422.4 1394.4,1422.3 1391.8,1422.2" fill="#8fa6bd" opacity="0.35"/>
<polygon points="1391.8,1418.4 1394.4,1418.3 1396.9,1418.2 1399.4,1418.1 1401.9,1418.0 1404.4,1417.8 1407.0,1417.6 1409.5,1417.4 1412.0,1417.2 1414.5,1416.9 1417.1,1416.6 1419.6,1416.3 1422.1,1415.9 1424.6,1415.5 1427.1,1415.1 1429.7,1414.7 1432.2,1414.2 1434.7,1414.7 1437.2,1415.1 1439.8,1415.5 1442.3,1415.9 1444.8,1416.3 1447.3,1416.6 1449.9,1416.9 1452.4,1417.2 1454.9,1417.4 1457.4,1417.6 1459.9,1417.8 1462.5,1418.0 1465.0,1418.1 1467.5,1418.2 1470.0,1418.3 1472.6,1418.4 1472.6,1421.6 1470.0,1421.7 1467.5,1421.8 1465.0,1421.9 1462.5,1422.0 1459.9,1422.2 1457.4,1422.4 1454.9,1422.6 1452.4,1422.8 1449.9,1423.1 1447.3,1423.4 1444.8,1423.7 1442.3,1424.1 1439.8,1424.5 1437.2,1424.9 1434.7,1425.3 1432.2,1425.8 1429.7,1425.3 1427.1,1424.9 1424.6,1424.5 1422.1,1424.1 1419.6,1423.7 1417.1,1423.4 1414.5,1423.1 1412.0,1422.8 1409.5,1422.6 1407.0,1422.4 1404.4,1422.2 1401.9,1422.0 1399.4,1421.9 1396.9,1421.8 1394.4,1421.7 1391.8,1421.6" fill="#1a476f"/>
<line x1="1391.8" y1="1411.7" x2="1391.8" y2="1428.3" stroke="#1a476f" stroke-width="2.9"/>
<line x1="1472.6" y1="1411.7" x2="1472.6" y2="1428.3" stroke="#1a476f" stroke-width="2.9"/>
<line x1="1205.8" y1="1561.0" x2="1223.5" y2="1561.0" stroke="#e3e9f0" stroke-width="3.6"/>
<polygon points="1207.9,1558.8 1208.4,1558.7 1208.8,1558.6 1209.2,1558.5 1209.6,1558.3 1210.0,1558.2 1210.5,1558.0 1210.9,1557.7 1211.3,1557.4 1211.7,1557.1 1212.1,1556.8 1212.6,1556.4 1213.0,1556.0 1213.4,1555.6 1213.8,1555.2 1214.3,1554.7 1214.7,1554.2 1215.1,1554.7 1215.5,1555.2 1215.9,1555.6 1216.4,1556.0 1216.8,1556.4 1217.2,1556.8 1217.6,1557.1 1218.0,1557.4 1218.5,1557.7 1218.9,1558.0 1219.3,1558.2 1219.7,1558.3 1220.1,1558.5 1220.6,1558.6 1221.0,1558.7 1221.4,1558.8 1221.4,1563.2 1221.0,1563.3 1220.6,1563.4 1220.1,1563.5 1219.7,1563.7 1219.3,1563.8 1218.9,1564.0 1218.5,1564.3 1218.0,1564.6 1217.6,1564.9 1217.2,1565.2 1216.8,1565.6 1216.4,1566.0 1215.9,1566.4 1215.5,1566.8 1215.1,1567.3 1214.7,1567.8 1214.3,1567.3 1213.8,1566.8 1213.4,1566.4 1213.0,1566.0 1212.6,1565.6 1212.1,1565.2 1211.7,1564.9 1211.3,1564.6 1210.9,1564.3 1210.5,1564.0 1210.0,1563.8 1209.6,1563.7 1209.2,1563.5 1208.8,1563.4 1208.4,1563.3 1207.9,1563.2" fill="#8fa6bd" opacity="0.35"/>
<polygon points="1207.9,1559.4 1208.4,1559.3 1208.8,1559.2 1209.2,1559.1 1209.6,1559.0 1210.0,1558.8 1210.5,1558.6 1210.9,1558.4 1211.3,1558.2 1211.7,1557.9 1212.1,1557.6 1212.6,1557.3 1213.0,1556.9 1213.4,1556.5 1213.8,1556.1 1214.3,1555.7 1214.7,1555.2 1215.1,1555.7 1215.5,1556.1 1215.9,1556.5 1216.4,1556.9 1216.8,1557.3 1217.2,1557.6 1217.6,1557.9 1218.0,1558.2 1218.5,1558.4 1218.9,1558.6 1219.3,1558.8 1219.7,1559.0 1220.1,1559.1 1220.6,1559.2 1221.0,1559.3 1221.4,1559.4 1221.4,1562.6 1221.0,1562.7 1220.6,1562.8 1220.1,1562.9 1219.7,1563.0 1219.3,1563.2 1218.9,1563.4 1218.5,1563.6 1218.0,1563.8 1217.6,1564.1 1217.2,1564.4 1216.8,1564.7 1216.4,1565.1 1215.9,1565.5 1215.5,1565.9 1215.1,1566.3 1214.7,1566.8 1214.3,1566.3 1213.8,1565.9 1213.4,1565.5 1213.0,1565.1 1212.6,1564.7 1212.1,1564.4 1211.7,1564.1 1211.3,1563.8 1210.9,1563.6 1210.5,1563.4 1210.0,1563.2 1209.6,1563.0 1209.2,1562.9 1208.8,1562.8 1208.4,1562.7 1207.9,1562.6" fill="#1a476f"/>
<line x1="1207.9" y1="1552.7" x2="1207.9" y2="1569.3" stroke="#1a476f" stroke-width="2.9"/>
<line x1="1221.4" y1="1552.7" x2="1221.4" y2="1569.3" stroke="#1a476f" stroke-width="2.9"/>
<line x1="1124.5" y1="1702.0" x2="1372.1" y2="1702.0" stroke="#e3e9f0" stroke-width="3.6"/>
<polygon points="1154.1,1699.8 1160.0,1699.7 1165.9,1699.6 1171.8,1699.5 1177.7,1699.3 1183.6,1699.2 1189.4,1699.0 1195.3,1698.7 1201.2,1698.4 1207.1,1698.1 1213.0,1697.8 1218.9,1697.4 1224.8,1697.0 1230.7,1696.6 1236.5,1696.2 1242.4,1695.7 1248.3,1695.2 1254.2,1695.7 1260.1,1696.2 1266.0,1696.6 1271.9,1697.0 1277.7,1697.4 1283.6,1697.8 1289.5,1698.1 1295.4,1698.4 1301.3,1698.7 1307.2,1699.0 1313.1,1699.2 1318.9,1699.3 1324.8,1699.5 1330.7,1699.6 1336.6,1699.7 1342.5,1699.8 1342.5,1704.2 1336.6,1704.3 1330.7,1704.4 1324.8,1704.5 1318.9,1704.7 1313.1,1704.8 1307.2,1705.0 1301.3,1705.3 1295.4,1705.6 1289.5,1705.9 1283.6,1706.2 1277.7,1706.6 1271.9,1707.0 1266.0,1707.4 1260.1,1707.8 1254.2,1708.3 1248.3,1708.8 1242.4,1708.3 1236.5,1707.8 1230.7,1707.4 1224.8,1707.0 1218.9,1706.6 1213.0,1706.2 1207.1,1705.9 1201.2,1705.6 1195.3,1705.3 1189.4,1705.0 1183.6,1704.8 1177.7,1704.7 1171.8,1704.5 1165.9,1704.4 1160.0,1704.3 1154.1,1704.2" fill="#8fa6bd" opacity="0.35"/>
<polygon points="1154.1,1700.4 1160.0,1700.3 1165.9,1700.2 1171.8,1700.1 1177.7,1700.0 1183.6,1699.8 1189.4,1699.6 1195.3,1699.4 1201.2,1699.2 1207.1,1698.9 1213.0,1698.6 1218.9,1698.3 1224.8,1697.9 1230.7,1697.5 1236.5,1697.1 1242.4,1696.7 1248.3,1696.2 1254.2,1696.7 1260.1,1697.1 1266.0,1697.5 1271.9,1697.9 1277.7,1698.3 1283.6,1698.6 1289.5,1698.9 1295.4,1699.2 1301.3,1699.4 1307.2,1699.6 1313.1,1699.8 1318.9,1700.0 1324.8,1700.1 1330.7,1700.2 1336.6,1700.3 1342.5,1700.4 1342.5,1703.6 1336.6,1703.7 1330.7,1703.8 1324.8,1703.9 1318.9,1704.0 1313.1,1704.2 1307.2,1704.4 1301.3,1704.6 1295.4,1704.8 1289.5,1705.1 1283.6,1705.4 1277.7,1705.7 1271.9,1706.1 1266.0,1706.5 1260.1,1706.9 1254.2,1707.3 1248.3,1707.8 1242.4,1707.3 1236.5,1706.9 1230.7,1706.5 1224.8,1706.1 1218.9,1705.7 1213.0,1705.4 1207.1,1705.1 1201.2,1704.8 1195.3,1704.6 1189.4,1704.4 1183.6,1704.2 1177.7,1704.0 1171.8,1703.9 1165.9,1703.8 1160.0,1703.7 1154.1,1703.6" fill="#1a476f"/>
<line x1="1154.1" y1="1693.7" x2="1154.1" y2="1710.3" stroke="#1a476f" stroke-width="2.9"/>
<line x1="1342.5" y1="1693.7" x2="1342.5" y2="1710.3" stroke="#1a476f" stroke-width="2.9"/>
<line x1="1118.2" y1="1843.0" x2="1525.0" y2="1843.0" stroke="#e3e9f0" stroke-width="3.6"/>
<polygon points="1167.6,1840.8 1177.4,1840.7 1187.2,1840.6 1197.0,1840.5 1206.8,1840.3 1216.6,1840.2 1226.4,1840.0 1236.3,1839.7 1246.1,1839.4 1255.9,1839.1 1265.7,1838.8 1275.5,1838.4 1285.3,1838.0 1295.1,1837.6 1304.9,1837.2 1314.7,1836.7 1324.6,1836.2 1334.1,1836.7 1343.6,1837.2 1353.1,1837.6 1362.7,1838.0 1372.2,1838.4 1381.7,1838.8 1391.3,1839.1 1400.8,1839.4 1410.3,1839.7 1419.9,1840.0 1429.4,1840.2 1438.9,1840.3 1448.5,1840.5 1458.0,1840.6 1467.5,1840.7 1477.0,1840.8 1477.0,1845.2 1467.5,1845.3 1458.0,1845.4 1448.5,1845.5 1438.9,1845.7 1429.4,1845.8 1419.9,1846.0 1410.3,1846.3 1400.8,1846.6 1391.3,1846.9 1381.7,1847.2 1372.2,1847.6 1362.7,1848.0 1353.1,1848.4 1343.6,1848.8 1334.1,1849.3 1324.6,1849.8 1314.7,1849.3 1304.9,1848.8 1295.1,1848.4 1285.3,1848.0 1275.5,1847.6 1265.7,1847.2 1255.9,1846.9 1246.1,1846.6 1236.3,1846.3 1226.4,1846.0 1216.6,1845.8 1206.8,1845.7 1197.0,1845.5 1187.2,1845.4 1177.4,1845.3 1167.6,1845.2" fill="#8fa6bd" opacity="0.35"/>
<polygon points="1167.6,1841.4 1177.4,1841.3 1187.2,1841.2 1197.0,1841.1 1206.8,1841.0 1216.6,1840.8 1226.4,1840.6 1236.3,1840.4 1246.1,1840.2 1255.9,1839.9 1265.7,1839.6 1275.5,1839.3 1285.3,1838.9 1295.1,1838.5 1304.9,1838.1 1314.7,1837.7 1324.6,1837.2 1334.1,1837.7 1343.6,1838.1 1353.1,1838.5 1362.7,1838.9 1372.2,1839.3 1381.7,1839.6 1391.3,1839.9 1400.8,1840.2 1410.3,1840.4 1419.9,1840.6 1429.4,1840.8 1438.9,1841.0 1448.5,1841.1 1458.0,1841.2 1467.5,1841.3 1477.0,1841.4 1477.0,1844.6 1467.5,1844.7 1458.0,1844.8 1448.5,1844.9 1438.9,1845.0 1429.4,1845.2 1419.9,1845.4 1410.3,1845.6 1400.8,1845.8 1391.3,1846.1 1381.7,1846.4 1372.2,1846.7 1362.7,1847.1 1353.1,1847.5 1343.6,1847.9 1334.1,1848.3 1324.6,1848.8 1314.7,1848.3 1304.9,1847.9 1295.1,1847.5 1285.3,1847.1 1275.5,1846.7 1265.7,1846.4 1255.9,1846.1 1246.1,1845.8 1236.3,1845.6 1226.4,1845.4 1216.6,1845.2 1206.8,1845.0 1197.0,1844.9 1187.2,1844.8 1177.4,1844.7 1167.6,1844.6" fill="#1a476f"/>
<line x1="1167.6" y1="1834.7" x2="1167.6" y2="1851.3" stroke="#1a476f" stroke-width="2.9"/>
<line x1="1477.0" y1="1834.7" x2="1477.0" y2="1851.3" stroke="#1a476f" stroke-width="2.9"/>
<line x1="1092.7" y1="1947.5" x2="1703.9" y2="1947.5" stroke="#404040" stroke-width="2.2"/>
<line x1="1221.4" y1="1174.8" x2="1221.4" y2="1947.5" stroke="#151515" stroke-width="3.0"/>
<polygon points="1328.1,1279.0 1338.0,1269.1 1347.9,1279.0 1338.0,1288.9" fill="#8fa6bd" opacity="0.3"/>
<polygon points="1330.6,1279.0 1338.0,1271.6 1345.4,1279.0 1338.0,1286.4" fill="#fff" stroke="#1a476f" stroke-width="2.8" stroke-linejoin="miter"/>
<polygon points="1422.3,1420.0 1432.2,1410.1 1442.1,1420.0 1432.2,1429.9" fill="#8fa6bd" opacity="0.3"/>
<polygon points="1424.8,1420.0 1432.2,1412.6 1439.6,1420.0 1432.2,1427.4" fill="#fff" stroke="#1a476f" stroke-width="2.8" stroke-linejoin="miter"/>
<polygon points="1204.8,1561.0 1214.7,1551.1 1224.6,1561.0 1214.7,1570.9" fill="#8fa6bd" opacity="0.3"/>
<polygon points="1207.3,1561.0 1214.7,1553.6 1222.1,1561.0 1214.7,1568.4" fill="#fff" stroke="#1a476f" stroke-width="2.8" stroke-linejoin="miter"/>
<polygon points="1238.4,1702.0 1248.3,1692.1 1258.2,1702.0 1248.3,1711.9" fill="#8fa6bd" opacity="0.3"/>
<polygon points="1240.9,1702.0 1248.3,1694.6 1255.7,1702.0 1248.3,1709.4" fill="#fff" stroke="#1a476f" stroke-width="2.8" stroke-linejoin="miter"/>
<polygon points="1314.7,1843.0 1324.6,1833.1 1334.5,1843.0 1324.6,1852.9" fill="#8fa6bd" opacity="0.3"/>
<polygon points="1317.2,1843.0 1324.6,1835.6 1332.0,1843.0 1324.6,1850.4" fill="#fff" stroke="#1a476f" stroke-width="2.8" stroke-linejoin="miter"/>
<line x1="1131.7" y1="1947.5" x2="1131.7" y2="1961.0" stroke="#404040" stroke-width="2.2"/>
<text transform="translate(1131.7,1993.5) scale(1.03,1)" font-size="26.5" text-anchor="middle" fill="#111111" stroke="#111111" stroke-width="0.35">-0.2</text>
<line x1="1221.4" y1="1947.5" x2="1221.4" y2="1961.0" stroke="#404040" stroke-width="2.2"/>
<text transform="translate(1221.4,1993.5) scale(1.03,1)" font-size="26.5" text-anchor="middle" fill="#111111" stroke="#111111" stroke-width="0.35">0.0</text>
<line x1="1311.1" y1="1947.5" x2="1311.1" y2="1961.0" stroke="#404040" stroke-width="2.2"/>
<text transform="translate(1311.1,1993.5) scale(1.03,1)" font-size="26.5" text-anchor="middle" fill="#111111" stroke="#111111" stroke-width="0.35">0.2</text>
<line x1="1400.8" y1="1947.5" x2="1400.8" y2="1961.0" stroke="#404040" stroke-width="2.2"/>
<text transform="translate(1400.8,1993.5) scale(1.03,1)" font-size="26.5" text-anchor="middle" fill="#111111" stroke="#111111" stroke-width="0.35">0.4</text>
<line x1="1490.5" y1="1947.5" x2="1490.5" y2="1961.0" stroke="#404040" stroke-width="2.2"/>
<text transform="translate(1490.5,1993.5) scale(1.03,1)" font-size="26.5" text-anchor="middle" fill="#111111" stroke="#111111" stroke-width="0.35">0.6</text>
<line x1="1580.2" y1="1947.5" x2="1580.2" y2="1961.0" stroke="#404040" stroke-width="2.2"/>
<text transform="translate(1580.2,1993.5) scale(1.03,1)" font-size="26.5" text-anchor="middle" fill="#111111" stroke="#111111" stroke-width="0.35">0.8</text>
<line x1="1669.9" y1="1947.5" x2="1669.9" y2="1961.0" stroke="#404040" stroke-width="2.2"/>
<text transform="translate(1669.9,1993.5) scale(1.03,1)" font-size="26.5" text-anchor="middle" fill="#111111" stroke="#111111" stroke-width="0.35">1.0</text>
<text transform="translate(1395.3,2032.5) scale(1.04,1)" font-size="26.5" text-anchor="middle" fill="#111111" stroke="#111111" stroke-width="0.35">Coefficient</text>
<text transform="translate(1618.5,1286.0) scale(1.042,1)" font-size="36" text-anchor="end" fill="#111111">0.26</text>
<text transform="translate(1628.0,1282.4) scale(1.07,1)" font-size="26" text-anchor="start" fill="#111111" stroke="#111111" stroke-width="0.35">(0.03; 0.50)<tspan font-size="20.5" dy="-4.2">*</tspan></text>
<text transform="translate(1618.5,1427.0) scale(1.042,1)" font-size="36" text-anchor="end" fill="#111111">0.47</text>
<text transform="translate(1628.0,1423.4) scale(1.07,1)" font-size="26" text-anchor="start" fill="#111111" stroke="#111111" stroke-width="0.35">(0.38; 0.56)<tspan font-size="20.5" dy="-4.2">*</tspan></text>
<text transform="translate(1618.5,1568.0) scale(1.042,1)" font-size="36" text-anchor="end" fill="#111111">-0.01</text>
<text transform="translate(1628.0,1564.4) scale(1.07,1)" font-size="26" text-anchor="start" fill="#111111" stroke="#111111" stroke-width="0.35">(-0.03; -0.00)<tspan font-size="20.5" dy="-4.2">*</tspan></text>
<text transform="translate(1618.5,1709.0) scale(1.042,1)" font-size="36" text-anchor="end" fill="#111111">0.06</text>
<text transform="translate(1628.0,1705.4) scale(1.07,1)" font-size="26" text-anchor="start" fill="#111111" stroke="#111111" stroke-width="0.35">(-0.15; 0.27)</text>
<text transform="translate(1618.5,1850.0) scale(1.042,1)" font-size="36" text-anchor="end" fill="#111111">0.23</text>
<text transform="translate(1628.0,1846.4) scale(1.07,1)" font-size="26" text-anchor="start" fill="#111111" stroke="#111111" stroke-width="0.35">(-0.12; 0.57)</text>
<text transform="translate(1769.4,1113.8) scale(0.848,1)" font-size="49.5" font-weight="bold" fill="#000">F)</text>
<text transform="translate(1835.6,1116.2) scale(1.0210,1)" font-size="47" fill="#212e50">Intermalleolar Distance</text>
<line x1="2052.6" y1="1279.0" x2="2206.6" y2="1279.0" stroke="#e3e9f0" stroke-width="3.6"/>
<polygon points="2070.9,1276.8 2074.6,1276.7 2078.3,1276.6 2081.9,1276.5 2085.6,1276.3 2089.2,1276.2 2092.9,1276.0 2096.5,1275.7 2100.2,1275.4 2103.9,1275.1 2107.5,1274.8 2111.2,1274.4 2114.8,1274.0 2118.5,1273.6 2122.1,1273.2 2125.8,1272.7 2129.5,1272.2 2133.1,1272.7 2136.8,1273.2 2140.5,1273.6 2144.1,1274.0 2147.8,1274.4 2151.5,1274.8 2155.1,1275.1 2158.8,1275.4 2162.5,1275.7 2166.1,1276.0 2169.8,1276.2 2173.5,1276.3 2177.2,1276.5 2180.8,1276.6 2184.5,1276.7 2188.2,1276.8 2188.2,1281.2 2184.5,1281.3 2180.8,1281.4 2177.2,1281.5 2173.5,1281.7 2169.8,1281.8 2166.1,1282.0 2162.5,1282.3 2158.8,1282.6 2155.1,1282.9 2151.5,1283.2 2147.8,1283.6 2144.1,1284.0 2140.5,1284.4 2136.8,1284.8 2133.1,1285.3 2129.5,1285.8 2125.8,1285.3 2122.1,1284.8 2118.5,1284.4 2114.8,1284.0 2111.2,1283.6 2107.5,1283.2 2103.9,1282.9 2100.2,1282.6 2096.5,1282.3 2092.9,1282.0 2089.2,1281.8 2085.6,1281.7 2081.9,1281.5 2078.3,1281.4 2074.6,1281.3 2070.9,1281.2" fill="#8fa6bd" opacity="0.35"/>
<polygon points="2070.9,1277.4 2074.6,1277.3 2078.3,1277.2 2081.9,1277.1 2085.6,1277.0 2089.2,1276.8 2092.9,1276.6 2096.5,1276.4 2100.2,1276.2 2103.9,1275.9 2107.5,1275.6 2111.2,1275.3 2114.8,1274.9 2118.5,1274.5 2122.1,1274.1 2125.8,1273.7 2129.5,1273.2 2133.1,1273.7 2136.8,1274.1 2140.5,1274.5 2144.1,1274.9 2147.8,1275.3 2151.5,1275.6 2155.1,1275.9 2158.8,1276.2 2162.5,1276.4 2166.1,1276.6 2169.8,1276.8 2173.5,1277.0 2177.2,1277.1 2180.8,1277.2 2184.5,1277.3 2188.2,1277.4 2188.2,1280.6 2184.5,1280.7 2180.8,1280.8 2177.2,1280.9 2173.5,1281.0 2169.8,1281.2 2166.1,1281.4 2162.5,1281.6 2158.8,1281.8 2155.1,1282.1 2151.5,1282.4 2147.8,1282.7 2144.1,1283.1 2140.5,1283.5 2136.8,1283.9 2133.1,1284.3 2129.5,1284.8 2125.8,1284.3 2122.1,1283.9 2118.5,1283.5 2114.8,1283.1 2111.2,1282.7 2107.5,1282.4 2103.9,1282.1 2100.2,1281.8 2096.5,1281.6 2092.9,1281.4 2089.2,1281.2 2085.6,1281.0 2081.9,1280.9 2078.3,1280.8 2074.6,1280.7 2070.9,1280.6" fill="#1a476f"/>
<line x1="2070.9" y1="1270.7" x2="2070.9" y2="1287.3" stroke="#1a476f" stroke-width="2.9"/>
<line x1="2188.2" y1="1270.7" x2="2188.2" y2="1287.3" stroke="#1a476f" stroke-width="2.9"/>
<line x1="2041.3" y1="1420.0" x2="2045.0" y2="1420.0" stroke="#e3e9f0" stroke-width="3.6"/>
<polygon points="2041.8,1417.8 2041.9,1417.7 2042.0,1417.6 2042.0,1417.5 2042.1,1417.3 2042.2,1417.2 2042.3,1417.0 2042.4,1416.7 2042.5,1416.4 2042.6,1416.1 2042.7,1415.8 2042.7,1415.4 2042.8,1415.0 2042.9,1414.6 2043.0,1414.2 2043.1,1413.7 2043.2,1413.2 2043.3,1413.7 2043.4,1414.2 2043.4,1414.6 2043.5,1415.0 2043.6,1415.4 2043.7,1415.8 2043.8,1416.1 2043.9,1416.4 2044.0,1416.7 2044.1,1417.0 2044.1,1417.2 2044.2,1417.3 2044.3,1417.5 2044.4,1417.6 2044.5,1417.7 2044.6,1417.8 2044.6,1422.2 2044.5,1422.3 2044.4,1422.4 2044.3,1422.5 2044.2,1422.7 2044.1,1422.8 2044.1,1423.0 2044.0,1423.3 2043.9,1423.6 2043.8,1423.9 2043.7,1424.2 2043.6,1424.6 2043.5,1425.0 2043.4,1425.4 2043.4,1425.8 2043.3,1426.3 2043.2,1426.8 2043.1,1426.3 2043.0,1425.8 2042.9,1425.4 2042.8,1425.0 2042.7,1424.6 2042.7,1424.2 2042.6,1423.9 2042.5,1423.6 2042.4,1423.3 2042.3,1423.0 2042.2,1422.8 2042.1,1422.7 2042.0,1422.5 2042.0,1422.4 2041.9,1422.3 2041.8,1422.2" fill="#8fa6bd" opacity="0.35"/>
<polygon points="2041.8,1418.4 2041.9,1418.3 2042.0,1418.2 2042.0,1418.1 2042.1,1418.0 2042.2,1417.8 2042.3,1417.6 2042.4,1417.4 2042.5,1417.2 2042.6,1416.9 2042.7,1416.6 2042.7,1416.3 2042.8,1415.9 2042.9,1415.5 2043.0,1415.1 2043.1,1414.7 2043.2,1414.2 2043.3,1414.7 2043.4,1415.1 2043.4,1415.5 2043.5,1415.9 2043.6,1416.3 2043.7,1416.6 2043.8,1416.9 2043.9,1417.2 2044.0,1417.4 2044.1,1417.6 2044.1,1417.8 2044.2,1418.0 2044.3,1418.1 2044.4,1418.2 2044.5,1418.3 2044.6,1418.4 2044.6,1421.6 2044.5,1421.7 2044.4,1421.8 2044.3,1421.9 2044.2,1422.0 2044.1,1422.2 2044.1,1422.4 2044.0,1422.6 2043.9,1422.8 2043.8,1423.1 2043.7,1423.4 2043.6,1423.7 2043.5,1424.1 2043.4,1424.5 2043.4,1424.9 2043.3,1425.3 2043.2,1425.8 2043.1,1425.3 2043.0,1424.9 2042.9,1424.5 2042.8,1424.1 2042.7,1423.7 2042.7,1423.4 2042.6,1423.1 2042.5,1422.8 2042.4,1422.6 2042.3,1422.4 2042.2,1422.2 2042.1,1422.0 2042.0,1421.9 2042.0,1421.8 2041.9,1421.7 2041.8,1421.6" fill="#1a476f"/>
<line x1="2041.8" y1="1411.7" x2="2041.8" y2="1428.3" stroke="#1a476f" stroke-width="2.9"/>
<line x1="2044.6" y1="1411.7" x2="2044.6" y2="1428.3" stroke="#1a476f" stroke-width="2.9"/>
<line x1="2024.4" y1="1561.0" x2="2032.8" y2="1561.0" stroke="#e3e9f0" stroke-width="3.6"/>
<polygon points="2025.4,1558.8 2025.6,1558.7 2025.8,1558.6 2026.0,1558.5 2026.2,1558.3 2026.4,1558.2 2026.6,1558.0 2026.8,1557.7 2027.0,1557.4 2027.2,1557.1 2027.4,1556.8 2027.6,1556.4 2027.8,1556.0 2028.0,1555.6 2028.2,1555.2 2028.4,1554.7 2028.6,1554.2 2028.8,1554.7 2029.0,1555.2 2029.2,1555.6 2029.4,1556.0 2029.6,1556.4 2029.8,1556.8 2030.0,1557.1 2030.2,1557.4 2030.4,1557.7 2030.6,1558.0 2030.8,1558.2 2031.0,1558.3 2031.2,1558.5 2031.4,1558.6 2031.6,1558.7 2031.8,1558.8 2031.8,1563.2 2031.6,1563.3 2031.4,1563.4 2031.2,1563.5 2031.0,1563.7 2030.8,1563.8 2030.6,1564.0 2030.4,1564.3 2030.2,1564.6 2030.0,1564.9 2029.8,1565.2 2029.6,1565.6 2029.4,1566.0 2029.2,1566.4 2029.0,1566.8 2028.8,1567.3 2028.6,1567.8 2028.4,1567.3 2028.2,1566.8 2028.0,1566.4 2027.8,1566.0 2027.6,1565.6 2027.4,1565.2 2027.2,1564.9 2027.0,1564.6 2026.8,1564.3 2026.6,1564.0 2026.4,1563.8 2026.2,1563.7 2026.0,1563.5 2025.8,1563.4 2025.6,1563.3 2025.4,1563.2" fill="#8fa6bd" opacity="0.35"/>
<polygon points="2025.4,1559.4 2025.6,1559.3 2025.8,1559.2 2026.0,1559.1 2026.2,1559.0 2026.4,1558.8 2026.6,1558.6 2026.8,1558.4 2027.0,1558.2 2027.2,1557.9 2027.4,1557.6 2027.6,1557.3 2027.8,1556.9 2028.0,1556.5 2028.2,1556.1 2028.4,1555.7 2028.6,1555.2 2028.8,1555.7 2029.0,1556.1 2029.2,1556.5 2029.4,1556.9 2029.6,1557.3 2029.8,1557.6 2030.0,1557.9 2030.2,1558.2 2030.4,1558.4 2030.6,1558.6 2030.8,1558.8 2031.0,1559.0 2031.2,1559.1 2031.4,1559.2 2031.6,1559.3 2031.8,1559.4 2031.8,1562.6 2031.6,1562.7 2031.4,1562.8 2031.2,1562.9 2031.0,1563.0 2030.8,1563.2 2030.6,1563.4 2030.4,1563.6 2030.2,1563.8 2030.0,1564.1 2029.8,1564.4 2029.6,1564.7 2029.4,1565.1 2029.2,1565.5 2029.0,1565.9 2028.8,1566.3 2028.6,1566.8 2028.4,1566.3 2028.2,1565.9 2028.0,1565.5 2027.8,1565.1 2027.6,1564.7 2027.4,1564.4 2027.2,1564.1 2027.0,1563.8 2026.8,1563.6 2026.6,1563.4 2026.4,1563.2 2026.2,1563.0 2026.0,1562.9 2025.8,1562.8 2025.6,1562.7 2025.4,1562.6" fill="#1a476f"/>
<line x1="2025.4" y1="1552.7" x2="2025.4" y2="1569.3" stroke="#1a476f" stroke-width="2.9"/>
<line x1="2031.8" y1="1552.7" x2="2031.8" y2="1569.3" stroke="#1a476f" stroke-width="2.9"/>
<line x1="1950.1" y1="1702.0" x2="2088.4" y2="1702.0" stroke="#e3e9f0" stroke-width="3.6"/>
<polygon points="1966.7,1699.8 1970.0,1699.7 1973.3,1699.6 1976.6,1699.5 1979.9,1699.3 1983.2,1699.2 1986.5,1699.0 1989.8,1698.7 1993.1,1698.4 1996.4,1698.1 1999.6,1697.8 2002.9,1697.4 2006.2,1697.0 2009.5,1696.6 2012.8,1696.2 2016.1,1695.7 2019.4,1695.2 2022.7,1695.7 2026.0,1696.2 2029.3,1696.6 2032.5,1697.0 2035.8,1697.4 2039.1,1697.8 2042.4,1698.1 2045.7,1698.4 2049.0,1698.7 2052.2,1699.0 2055.5,1699.2 2058.8,1699.3 2062.1,1699.5 2065.4,1699.6 2068.7,1699.7 2071.9,1699.8 2071.9,1704.2 2068.7,1704.3 2065.4,1704.4 2062.1,1704.5 2058.8,1704.7 2055.5,1704.8 2052.2,1705.0 2049.0,1705.3 2045.7,1705.6 2042.4,1705.9 2039.1,1706.2 2035.8,1706.6 2032.5,1707.0 2029.3,1707.4 2026.0,1707.8 2022.7,1708.3 2019.4,1708.8 2016.1,1708.3 2012.8,1707.8 2009.5,1707.4 2006.2,1707.0 2002.9,1706.6 1999.6,1706.2 1996.4,1705.9 1993.1,1705.6 1989.8,1705.3 1986.5,1705.0 1983.2,1704.8 1979.9,1704.7 1976.6,1704.5 1973.3,1704.4 1970.0,1704.3 1966.7,1704.2" fill="#8fa6bd" opacity="0.35"/>
<polygon points="1966.7,1700.4 1970.0,1700.3 1973.3,1700.2 1976.6,1700.1 1979.9,1700.0 1983.2,1699.8 1986.5,1699.6 1989.8,1699.4 1993.1,1699.2 1996.4,1698.9 1999.6,1698.6 2002.9,1698.3 2006.2,1697.9 2009.5,1697.5 2012.8,1697.1 2016.1,1696.7 2019.4,1696.2 2022.7,1696.7 2026.0,1697.1 2029.3,1697.5 2032.5,1697.9 2035.8,1698.3 2039.1,1698.6 2042.4,1698.9 2045.7,1699.2 2049.0,1699.4 2052.2,1699.6 2055.5,1699.8 2058.8,1700.0 2062.1,1700.1 2065.4,1700.2 2068.7,1700.3 2071.9,1700.4 2071.9,1703.6 2068.7,1703.7 2065.4,1703.8 2062.1,1703.9 2058.8,1704.0 2055.5,1704.2 2052.2,1704.4 2049.0,1704.6 2045.7,1704.8 2042.4,1705.1 2039.1,1705.4 2035.8,1705.7 2032.5,1706.1 2029.3,1706.5 2026.0,1706.9 2022.7,1707.3 2019.4,1707.8 2016.1,1707.3 2012.8,1706.9 2009.5,1706.5 2006.2,1706.1 2002.9,1705.7 1999.6,1705.4 1996.4,1705.1 1993.1,1704.8 1989.8,1704.6 1986.5,1704.4 1983.2,1704.2 1979.9,1704.0 1976.6,1703.9 1973.3,1703.8 1970.0,1703.7 1966.7,1703.6" fill="#1a476f"/>
<line x1="1966.7" y1="1693.7" x2="1966.7" y2="1710.3" stroke="#1a476f" stroke-width="2.9"/>
<line x1="2071.9" y1="1693.7" x2="2071.9" y2="1710.3" stroke="#1a476f" stroke-width="2.9"/>
<line x1="1851.7" y1="1843.0" x2="2070.6" y2="1843.0" stroke="#e3e9f0" stroke-width="3.6"/>
<polygon points="1877.8,1840.8 1883.0,1840.7 1888.2,1840.6 1893.4,1840.5 1898.7,1840.3 1903.9,1840.2 1909.1,1840.0 1914.3,1839.7 1919.5,1839.4 1924.7,1839.1 1929.9,1838.8 1935.1,1838.4 1940.3,1838.0 1945.5,1837.6 1950.7,1837.2 1955.9,1836.7 1961.1,1836.2 1966.3,1836.7 1971.5,1837.2 1976.7,1837.6 1981.9,1838.0 1987.1,1838.4 1992.3,1838.8 1997.5,1839.1 2002.7,1839.4 2007.9,1839.7 2013.2,1840.0 2018.4,1840.2 2023.6,1840.3 2028.8,1840.5 2034.0,1840.6 2039.2,1840.7 2044.4,1840.8 2044.4,1845.2 2039.2,1845.3 2034.0,1845.4 2028.8,1845.5 2023.6,1845.7 2018.4,1845.8 2013.2,1846.0 2007.9,1846.3 2002.7,1846.6 1997.5,1846.9 1992.3,1847.2 1987.1,1847.6 1981.9,1848.0 1976.7,1848.4 1971.5,1848.8 1966.3,1849.3 1961.1,1849.8 1955.9,1849.3 1950.7,1848.8 1945.5,1848.4 1940.3,1848.0 1935.1,1847.6 1929.9,1847.2 1924.7,1846.9 1919.5,1846.6 1914.3,1846.3 1909.1,1846.0 1903.9,1845.8 1898.7,1845.7 1893.4,1845.5 1888.2,1845.4 1883.0,1845.3 1877.8,1845.2" fill="#8fa6bd" opacity="0.35"/>
<polygon points="1877.8,1841.4 1883.0,1841.3 1888.2,1841.2 1893.4,1841.1 1898.7,1841.0 1903.9,1840.8 1909.1,1840.6 1914.3,1840.4 1919.5,1840.2 1924.7,1839.9 1929.9,1839.6 1935.1,1839.3 1940.3,1838.9 1945.5,1838.5 1950.7,1838.1 1955.9,1837.7 1961.1,1837.2 1966.3,1837.7 1971.5,1838.1 1976.7,1838.5 1981.9,1838.9 1987.1,1839.3 1992.3,1839.6 1997.5,1839.9 2002.7,1840.2 2007.9,1840.4 2013.2,1840.6 2018.4,1840.8 2023.6,1841.0 2028.8,1841.1 2034.0,1841.2 2039.2,1841.3 2044.4,1841.4 2044.4,1844.6 2039.2,1844.7 2034.0,1844.8 2028.8,1844.9 2023.6,1845.0 2018.4,1845.2 2013.2,1845.4 2007.9,1845.6 2002.7,1845.8 1997.5,1846.1 1992.3,1846.4 1987.1,1846.7 1981.9,1847.1 1976.7,1847.5 1971.5,1847.9 1966.3,1848.3 1961.1,1848.8 1955.9,1848.3 1950.7,1847.9 1945.5,1847.5 1940.3,1847.1 1935.1,1846.7 1929.9,1846.4 1924.7,1846.1 1919.5,1845.8 1914.3,1845.6 1909.1,1845.4 1903.9,1845.2 1898.7,1845.0 1893.4,1844.9 1888.2,1844.8 1883.0,1844.7 1877.8,1844.6" fill="#1a476f"/>
<line x1="1877.8" y1="1834.7" x2="1877.8" y2="1851.3" stroke="#1a476f" stroke-width="2.9"/>
<line x1="2044.4" y1="1834.7" x2="2044.4" y2="1851.3" stroke="#1a476f" stroke-width="2.9"/>
<line x1="1803.7" y1="1947.5" x2="2366.9" y2="1947.5" stroke="#404040" stroke-width="2.2"/>
<line x1="2032.4" y1="1174.8" x2="2032.4" y2="1947.5" stroke="#151515" stroke-width="3.0"/>
<polygon points="2119.6,1279.0 2129.5,1269.1 2139.4,1279.0 2129.5,1288.9" fill="#8fa6bd" opacity="0.3"/>
<polygon points="2122.1,1279.0 2129.5,1271.6 2136.9,1279.0 2129.5,1286.4" fill="#fff" stroke="#1a476f" stroke-width="2.8" stroke-linejoin="miter"/>
<polygon points="2033.3,1420.0 2043.2,1410.1 2053.1,1420.0 2043.2,1429.9" fill="#8fa6bd" opacity="0.3"/>
<polygon points="2035.8,1420.0 2043.2,1412.6 2050.6,1420.0 2043.2,1427.4" fill="#fff" stroke="#1a476f" stroke-width="2.8" stroke-linejoin="miter"/>
<polygon points="2018.7,1561.0 2028.6,1551.1 2038.5,1561.0 2028.6,1570.9" fill="#8fa6bd" opacity="0.3"/>
<polygon points="2021.2,1561.0 2028.6,1553.6 2036.0,1561.0 2028.6,1568.4" fill="#fff" stroke="#1a476f" stroke-width="2.8" stroke-linejoin="miter"/>
<polygon points="2009.5,1702.0 2019.4,1692.1 2029.3,1702.0 2019.4,1711.9" fill="#8fa6bd" opacity="0.3"/>
<polygon points="2012.0,1702.0 2019.4,1694.6 2026.8,1702.0 2019.4,1709.4" fill="#fff" stroke="#1a476f" stroke-width="2.8" stroke-linejoin="miter"/>
<polygon points="1951.2,1843.0 1961.1,1833.1 1971.0,1843.0 1961.1,1852.9" fill="#8fa6bd" opacity="0.3"/>
<polygon points="1953.7,1843.0 1961.1,1835.6 1968.5,1843.0 1961.1,1850.4" fill="#fff" stroke="#1a476f" stroke-width="2.8" stroke-linejoin="miter"/>
<line x1="1832.7" y1="1947.5" x2="1832.7" y2="1961.0" stroke="#404040" stroke-width="2.2"/>
<text transform="translate(1832.7,1993.5) scale(1.03,1)" font-size="26.5" text-anchor="middle" fill="#111111" stroke="#111111" stroke-width="0.35">-10.0</text>
<line x1="1932.6" y1="1947.5" x2="1932.6" y2="1961.0" stroke="#404040" stroke-width="2.2"/>
<text transform="translate(1932.6,1993.5) scale(1.03,1)" font-size="26.5" text-anchor="middle" fill="#111111" stroke="#111111" stroke-width="0.35">-5.0</text>
<line x1="2032.4" y1="1947.5" x2="2032.4" y2="1961.0" stroke="#404040" stroke-width="2.2"/>
<text transform="translate(2032.4,1993.5) scale(1.03,1)" font-size="26.5" text-anchor="middle" fill="#111111" stroke="#111111" stroke-width="0.35">0.0</text>
<line x1="2132.2" y1="1947.5" x2="2132.2" y2="1961.0" stroke="#404040" stroke-width="2.2"/>
<text transform="translate(2132.2,1993.5) scale(1.03,1)" font-size="26.5" text-anchor="middle" fill="#111111" stroke="#111111" stroke-width="0.35">5.0</text>
<line x1="2232.1" y1="1947.5" x2="2232.1" y2="1961.0" stroke="#404040" stroke-width="2.2"/>
<text transform="translate(2232.1,1993.5) scale(1.03,1)" font-size="26.5" text-anchor="middle" fill="#111111" stroke="#111111" stroke-width="0.35">10.0</text>
<line x1="2331.9" y1="1947.5" x2="2331.9" y2="1961.0" stroke="#404040" stroke-width="2.2"/>
<text transform="translate(2331.9,1993.5) scale(1.03,1)" font-size="26.5" text-anchor="middle" fill="#111111" stroke="#111111" stroke-width="0.35">15.0</text>
<text transform="translate(2082.3,2032.5) scale(1.04,1)" font-size="26.5" text-anchor="middle" fill="#111111" stroke="#111111" stroke-width="0.35">Coefficient</text>
<text transform="translate(2311.0,1286.0) scale(1.042,1)" font-size="36" text-anchor="end" fill="#111111">4.86</text>
<text transform="translate(2314.8,1282.4) scale(1.07,1)" font-size="26" text-anchor="start" fill="#111111" stroke="#111111" stroke-width="0.35">(1.93; 7.80)<tspan font-size="20.5" dy="-4.2">*</tspan></text>
<text transform="translate(2311.0,1427.0) scale(1.042,1)" font-size="36" text-anchor="end" fill="#111111">0.54</text>
<text transform="translate(2314.8,1423.4) scale(1.07,1)" font-size="26" text-anchor="start" fill="#111111" stroke="#111111" stroke-width="0.35">(0.47; 0.61)<tspan font-size="20.5" dy="-4.2">*</tspan></text>
<text transform="translate(2311.0,1568.0) scale(1.042,1)" font-size="36" text-anchor="end" fill="#111111">-0.19</text>
<text transform="translate(2314.8,1564.4) scale(1.07,1)" font-size="26" text-anchor="start" fill="#111111" stroke="#111111" stroke-width="0.35">(-0.35; -0.03)<tspan font-size="20.5" dy="-4.2">*</tspan></text>
<text transform="translate(2311.0,1709.0) scale(1.042,1)" font-size="36" text-anchor="end" fill="#111111">-0.65</text>
<text transform="translate(2314.8,1705.4) scale(1.07,1)" font-size="26" text-anchor="start" fill="#111111" stroke="#111111" stroke-width="0.35">(-3.29; 1.98)</text>
<text transform="translate(2311.0,1850.0) scale(1.042,1)" font-size="36" text-anchor="end" fill="#111111">-3.57</text>
<text transform="translate(2314.8,1846.4) scale(1.07,1)" font-size="26" text-anchor="start" fill="#111111" stroke="#111111" stroke-width="0.35">(-7.74; 0.60)</text>
<text transform="translate(996.1,2161.6) scale(0.915,1)" font-size="49.5" font-weight="bold" fill="#000">G)</text>
<text transform="translate(1319.7,2156.6) scale(1.0381,1)" font-size="47" fill="#212e50">BASMI</text>
<line x1="1119.0" y1="2319.4" x2="1262.7" y2="2319.4" stroke="#f5e8e9" stroke-width="3.6"/>
<polygon points="1136.7,2317.2 1140.2,2317.1 1143.7,2317.0 1147.3,2316.9 1150.8,2316.7 1154.3,2316.6 1157.8,2316.4 1161.3,2316.1 1164.9,2315.8 1168.4,2315.5 1171.9,2315.2 1175.4,2314.8 1178.9,2314.4 1182.5,2314.0 1186.0,2313.6 1189.5,2313.1 1193.0,2312.6 1196.3,2313.1 1199.6,2313.6 1202.9,2314.0 1206.3,2314.4 1209.6,2314.8 1212.9,2315.2 1216.2,2315.5 1219.5,2315.8 1222.8,2316.1 1226.1,2316.4 1229.4,2316.6 1232.8,2316.7 1236.1,2316.9 1239.4,2317.0 1242.7,2317.1 1246.0,2317.2 1246.0,2321.6 1242.7,2321.7 1239.4,2321.8 1236.1,2321.9 1232.8,2322.1 1229.4,2322.2 1226.1,2322.4 1222.8,2322.7 1219.5,2323.0 1216.2,2323.3 1212.9,2323.6 1209.6,2324.0 1206.3,2324.4 1202.9,2324.8 1199.6,2325.2 1196.3,2325.7 1193.0,2326.1 1189.5,2325.7 1186.0,2325.2 1182.5,2324.8 1178.9,2324.4 1175.4,2324.0 1171.9,2323.6 1168.4,2323.3 1164.9,2323.0 1161.3,2322.7 1157.8,2322.4 1154.3,2322.2 1150.8,2322.1 1147.3,2321.9 1143.7,2321.8 1140.2,2321.7 1136.7,2321.6" fill="#c99a9d" opacity="0.35"/>
<polygon points="1136.7,2317.8 1140.2,2317.7 1143.7,2317.6 1147.3,2317.5 1150.8,2317.4 1154.3,2317.2 1157.8,2317.0 1161.3,2316.8 1164.9,2316.6 1168.4,2316.3 1171.9,2316.0 1175.4,2315.7 1178.9,2315.3 1182.5,2314.9 1186.0,2314.5 1189.5,2314.1 1193.0,2313.6 1196.3,2314.1 1199.6,2314.5 1202.9,2314.9 1206.3,2315.3 1209.6,2315.7 1212.9,2316.0 1216.2,2316.3 1219.5,2316.6 1222.8,2316.8 1226.1,2317.0 1229.4,2317.2 1232.8,2317.4 1236.1,2317.5 1239.4,2317.6 1242.7,2317.7 1246.0,2317.8 1246.0,2321.0 1242.7,2321.1 1239.4,2321.2 1236.1,2321.3 1232.8,2321.4 1229.4,2321.6 1226.1,2321.8 1222.8,2322.0 1219.5,2322.2 1216.2,2322.5 1212.9,2322.8 1209.6,2323.1 1206.3,2323.5 1202.9,2323.9 1199.6,2324.3 1196.3,2324.7 1193.0,2325.1 1189.5,2324.7 1186.0,2324.3 1182.5,2323.9 1178.9,2323.5 1175.4,2323.1 1171.9,2322.8 1168.4,2322.5 1164.9,2322.2 1161.3,2322.0 1157.8,2321.8 1154.3,2321.6 1150.8,2321.4 1147.3,2321.3 1143.7,2321.2 1140.2,2321.1 1136.7,2321.0" fill="#90353b"/>
<line x1="1136.7" y1="2311.1" x2="1136.7" y2="2327.7" stroke="#90353b" stroke-width="2.9"/>
<line x1="1246.0" y1="2311.1" x2="1246.0" y2="2327.7" stroke="#90353b" stroke-width="2.9"/>
<line x1="1405.5" y1="2460.4" x2="1488.3" y2="2460.4" stroke="#f5e8e9" stroke-width="3.6"/>
<polygon points="1414.9,2458.2 1416.8,2458.1 1418.6,2458.0 1420.5,2457.9 1422.4,2457.7 1424.2,2457.6 1426.1,2457.4 1428.0,2457.1 1429.8,2456.8 1431.7,2456.5 1433.5,2456.2 1435.4,2455.8 1437.3,2455.4 1439.1,2455.0 1441.0,2454.6 1442.9,2454.1 1444.7,2453.6 1446.8,2454.1 1448.9,2454.6 1450.9,2455.0 1453.0,2455.4 1455.1,2455.8 1457.1,2456.2 1459.2,2456.5 1461.3,2456.8 1463.4,2457.1 1465.4,2457.4 1467.5,2457.6 1469.6,2457.7 1471.6,2457.9 1473.7,2458.0 1475.8,2458.1 1477.8,2458.2 1477.8,2462.6 1475.8,2462.7 1473.7,2462.8 1471.6,2462.9 1469.6,2463.1 1467.5,2463.2 1465.4,2463.4 1463.4,2463.7 1461.3,2464.0 1459.2,2464.3 1457.1,2464.6 1455.1,2465.0 1453.0,2465.4 1450.9,2465.8 1448.9,2466.2 1446.8,2466.7 1444.7,2467.1 1442.9,2466.7 1441.0,2466.2 1439.1,2465.8 1437.3,2465.4 1435.4,2465.0 1433.5,2464.6 1431.7,2464.3 1429.8,2464.0 1428.0,2463.7 1426.1,2463.4 1424.2,2463.2 1422.4,2463.1 1420.5,2462.9 1418.6,2462.8 1416.8,2462.7 1414.9,2462.6" fill="#c99a9d" opacity="0.35"/>
<polygon points="1414.9,2458.8 1416.8,2458.7 1418.6,2458.6 1420.5,2458.5 1422.4,2458.4 1424.2,2458.2 1426.1,2458.0 1428.0,2457.8 1429.8,2457.6 1431.7,2457.3 1433.5,2457.0 1435.4,2456.7 1437.3,2456.3 1439.1,2455.9 1441.0,2455.5 1442.9,2455.1 1444.7,2454.6 1446.8,2455.1 1448.9,2455.5 1450.9,2455.9 1453.0,2456.3 1455.1,2456.7 1457.1,2457.0 1459.2,2457.3 1461.3,2457.6 1463.4,2457.8 1465.4,2458.0 1467.5,2458.2 1469.6,2458.4 1471.6,2458.5 1473.7,2458.6 1475.8,2458.7 1477.8,2458.8 1477.8,2462.0 1475.8,2462.1 1473.7,2462.2 1471.6,2462.3 1469.6,2462.4 1467.5,2462.6 1465.4,2462.8 1463.4,2463.0 1461.3,2463.2 1459.2,2463.5 1457.1,2463.8 1455.1,2464.1 1453.0,2464.5 1450.9,2464.9 1448.9,2465.3 1446.8,2465.7 1444.7,2466.1 1442.9,2465.7 1441.0,2465.3 1439.1,2464.9 1437.3,2464.5 1435.4,2464.1 1433.5,2463.8 1431.7,2463.5 1429.8,2463.2 1428.0,2463.0 1426.1,2462.8 1424.2,2462.6 1422.4,2462.4 1420.5,2462.3 1418.6,2462.2 1416.8,2462.1 1414.9,2462.0" fill="#90353b"/>
<line x1="1414.9" y1="2452.1" x2="1414.9" y2="2468.7" stroke="#90353b" stroke-width="2.9"/>
<line x1="1477.8" y1="2452.1" x2="1477.8" y2="2468.7" stroke="#90353b" stroke-width="2.9"/>
<line x1="1271.5" y1="2601.4" x2="1280.2" y2="2601.4" stroke="#f5e8e9" stroke-width="3.6"/>
<polygon points="1272.5,2599.2 1272.7,2599.1 1272.9,2599.0 1273.1,2598.9 1273.3,2598.7 1273.5,2598.6 1273.7,2598.4 1273.9,2598.1 1274.2,2597.8 1274.4,2597.5 1274.6,2597.2 1274.8,2596.8 1275.0,2596.4 1275.2,2596.0 1275.4,2595.6 1275.6,2595.1 1275.8,2594.6 1276.0,2595.1 1276.2,2595.6 1276.4,2596.0 1276.6,2596.4 1276.8,2596.8 1277.1,2597.2 1277.3,2597.5 1277.5,2597.8 1277.7,2598.1 1277.9,2598.4 1278.1,2598.6 1278.3,2598.7 1278.5,2598.9 1278.7,2599.0 1278.9,2599.1 1279.1,2599.2 1279.1,2603.6 1278.9,2603.7 1278.7,2603.8 1278.5,2603.9 1278.3,2604.1 1278.1,2604.2 1277.9,2604.4 1277.7,2604.7 1277.5,2605.0 1277.3,2605.3 1277.1,2605.6 1276.8,2606.0 1276.6,2606.4 1276.4,2606.8 1276.2,2607.2 1276.0,2607.7 1275.8,2608.1 1275.6,2607.7 1275.4,2607.2 1275.2,2606.8 1275.0,2606.4 1274.8,2606.0 1274.6,2605.6 1274.4,2605.3 1274.2,2605.0 1273.9,2604.7 1273.7,2604.4 1273.5,2604.2 1273.3,2604.1 1273.1,2603.9 1272.9,2603.8 1272.7,2603.7 1272.5,2603.6" fill="#c99a9d" opacity="0.35"/>
<polygon points="1272.5,2599.8 1272.7,2599.7 1272.9,2599.6 1273.1,2599.5 1273.3,2599.4 1273.5,2599.2 1273.7,2599.0 1273.9,2598.8 1274.2,2598.6 1274.4,2598.3 1274.6,2598.0 1274.8,2597.7 1275.0,2597.3 1275.2,2596.9 1275.4,2596.5 1275.6,2596.1 1275.8,2595.6 1276.0,2596.1 1276.2,2596.5 1276.4,2596.9 1276.6,2597.3 1276.8,2597.7 1277.1,2598.0 1277.3,2598.3 1277.5,2598.6 1277.7,2598.8 1277.9,2599.0 1278.1,2599.2 1278.3,2599.4 1278.5,2599.5 1278.7,2599.6 1278.9,2599.7 1279.1,2599.8 1279.1,2603.0 1278.9,2603.1 1278.7,2603.2 1278.5,2603.3 1278.3,2603.4 1278.1,2603.6 1277.9,2603.8 1277.7,2604.0 1277.5,2604.2 1277.3,2604.5 1277.1,2604.8 1276.8,2605.1 1276.6,2605.5 1276.4,2605.9 1276.2,2606.3 1276.0,2606.7 1275.8,2607.1 1275.6,2606.7 1275.4,2606.3 1275.2,2605.9 1275.0,2605.5 1274.8,2605.1 1274.6,2604.8 1274.4,2604.5 1274.2,2604.2 1273.9,2604.0 1273.7,2603.8 1273.5,2603.6 1273.3,2603.4 1273.1,2603.3 1272.9,2603.2 1272.7,2603.1 1272.5,2603.0" fill="#90353b"/>
<line x1="1272.5" y1="2593.1" x2="1272.5" y2="2609.7" stroke="#90353b" stroke-width="2.9"/>
<line x1="1279.1" y1="2593.1" x2="1279.1" y2="2609.7" stroke="#90353b" stroke-width="2.9"/>
<line x1="1234.7" y1="2742.4" x2="1356.6" y2="2742.4" stroke="#f5e8e9" stroke-width="3.6"/>
<polygon points="1249.3,2740.2 1252.2,2740.1 1255.1,2740.0 1258.0,2739.9 1260.9,2739.7 1263.8,2739.6 1266.7,2739.4 1269.6,2739.1 1272.5,2738.8 1275.4,2738.5 1278.3,2738.2 1281.2,2737.8 1284.1,2737.4 1287.0,2737.0 1289.9,2736.6 1292.8,2736.1 1295.7,2735.6 1298.6,2736.1 1301.5,2736.6 1304.4,2737.0 1307.3,2737.4 1310.2,2737.8 1313.1,2738.2 1316.0,2738.5 1318.9,2738.8 1321.8,2739.1 1324.7,2739.4 1327.6,2739.6 1330.5,2739.7 1333.4,2739.9 1336.3,2740.0 1339.2,2740.1 1342.1,2740.2 1342.1,2744.6 1339.2,2744.7 1336.3,2744.8 1333.4,2744.9 1330.5,2745.1 1327.6,2745.2 1324.7,2745.4 1321.8,2745.7 1318.9,2746.0 1316.0,2746.3 1313.1,2746.6 1310.2,2747.0 1307.3,2747.4 1304.4,2747.8 1301.5,2748.2 1298.6,2748.7 1295.7,2749.1 1292.8,2748.7 1289.9,2748.2 1287.0,2747.8 1284.1,2747.4 1281.2,2747.0 1278.3,2746.6 1275.4,2746.3 1272.5,2746.0 1269.6,2745.7 1266.7,2745.4 1263.8,2745.2 1260.9,2745.1 1258.0,2744.9 1255.1,2744.8 1252.2,2744.7 1249.3,2744.6" fill="#c99a9d" opacity="0.35"/>
<polygon points="1249.3,2740.8 1252.2,2740.7 1255.1,2740.6 1258.0,2740.5 1260.9,2740.4 1263.8,2740.2 1266.7,2740.0 1269.6,2739.8 1272.5,2739.6 1275.4,2739.3 1278.3,2739.0 1281.2,2738.7 1284.1,2738.3 1287.0,2737.9 1289.9,2737.5 1292.8,2737.1 1295.7,2736.6 1298.6,2737.1 1301.5,2737.5 1304.4,2737.9 1307.3,2738.3 1310.2,2738.7 1313.1,2739.0 1316.0,2739.3 1318.9,2739.6 1321.8,2739.8 1324.7,2740.0 1327.6,2740.2 1330.5,2740.4 1333.4,2740.5 1336.3,2740.6 1339.2,2740.7 1342.1,2740.8 1342.1,2744.0 1339.2,2744.1 1336.3,2744.2 1333.4,2744.3 1330.5,2744.4 1327.6,2744.6 1324.7,2744.8 1321.8,2745.0 1318.9,2745.2 1316.0,2745.5 1313.1,2745.8 1310.2,2746.1 1307.3,2746.5 1304.4,2746.9 1301.5,2747.3 1298.6,2747.7 1295.7,2748.1 1292.8,2747.7 1289.9,2747.3 1287.0,2746.9 1284.1,2746.5 1281.2,2746.1 1278.3,2745.8 1275.4,2745.5 1272.5,2745.2 1269.6,2745.0 1266.7,2744.8 1263.8,2744.6 1260.9,2744.4 1258.0,2744.3 1255.1,2744.2 1252.2,2744.1 1249.3,2744.0" fill="#90353b"/>
<line x1="1249.3" y1="2734.1" x2="1249.3" y2="2750.7" stroke="#90353b" stroke-width="2.9"/>
<line x1="1342.1" y1="2734.1" x2="1342.1" y2="2750.7" stroke="#90353b" stroke-width="2.9"/>
<line x1="1281.5" y1="2883.4" x2="1455.6" y2="2883.4" stroke="#f5e8e9" stroke-width="3.6"/>
<polygon points="1302.3,2881.2 1306.4,2881.1 1310.6,2881.0 1314.7,2880.9 1318.9,2880.7 1323.0,2880.6 1327.1,2880.4 1331.3,2880.1 1335.4,2879.8 1339.6,2879.5 1343.7,2879.2 1347.8,2878.8 1352.0,2878.4 1356.1,2878.0 1360.3,2877.6 1364.4,2877.1 1368.5,2876.6 1372.7,2877.1 1376.8,2877.6 1381.0,2878.0 1385.1,2878.4 1389.2,2878.8 1393.4,2879.2 1397.5,2879.5 1401.7,2879.8 1405.8,2880.1 1409.9,2880.4 1414.1,2880.6 1418.2,2880.7 1422.4,2880.9 1426.5,2881.0 1430.6,2881.1 1434.8,2881.2 1434.8,2885.6 1430.6,2885.7 1426.5,2885.8 1422.4,2885.9 1418.2,2886.1 1414.1,2886.2 1409.9,2886.4 1405.8,2886.7 1401.7,2887.0 1397.5,2887.3 1393.4,2887.6 1389.2,2888.0 1385.1,2888.4 1381.0,2888.8 1376.8,2889.2 1372.7,2889.7 1368.5,2890.1 1364.4,2889.7 1360.3,2889.2 1356.1,2888.8 1352.0,2888.4 1347.8,2888.0 1343.7,2887.6 1339.6,2887.3 1335.4,2887.0 1331.3,2886.7 1327.1,2886.4 1323.0,2886.2 1318.9,2886.1 1314.7,2885.9 1310.6,2885.8 1306.4,2885.7 1302.3,2885.6" fill="#c99a9d" opacity="0.35"/>
<polygon points="1302.3,2881.8 1306.4,2881.7 1310.6,2881.6 1314.7,2881.5 1318.9,2881.4 1323.0,2881.2 1327.1,2881.0 1331.3,2880.8 1335.4,2880.6 1339.6,2880.3 1343.7,2880.0 1347.8,2879.7 1352.0,2879.3 1356.1,2878.9 1360.3,2878.5 1364.4,2878.1 1368.5,2877.6 1372.7,2878.1 1376.8,2878.5 1381.0,2878.9 1385.1,2879.3 1389.2,2879.7 1393.4,2880.0 1397.5,2880.3 1401.7,2880.6 1405.8,2880.8 1409.9,2881.0 1414.1,2881.2 1418.2,2881.4 1422.4,2881.5 1426.5,2881.6 1430.6,2881.7 1434.8,2881.8 1434.8,2885.0 1430.6,2885.1 1426.5,2885.2 1422.4,2885.3 1418.2,2885.4 1414.1,2885.6 1409.9,2885.8 1405.8,2886.0 1401.7,2886.2 1397.5,2886.5 1393.4,2886.8 1389.2,2887.1 1385.1,2887.5 1381.0,2887.9 1376.8,2888.3 1372.7,2888.7 1368.5,2889.1 1364.4,2888.7 1360.3,2888.3 1356.1,2887.9 1352.0,2887.5 1347.8,2887.1 1343.7,2886.8 1339.6,2886.5 1335.4,2886.2 1331.3,2886.0 1327.1,2885.8 1323.0,2885.6 1318.9,2885.4 1314.7,2885.3 1310.6,2885.2 1306.4,2885.1 1302.3,2885.0" fill="#90353b"/>
<line x1="1302.3" y1="2875.1" x2="1302.3" y2="2891.7" stroke="#90353b" stroke-width="2.9"/>
<line x1="1434.8" y1="2875.1" x2="1434.8" y2="2891.7" stroke="#90353b" stroke-width="2.9"/>
<line x1="1085.3" y1="2987.9" x2="1703.9" y2="2987.9" stroke="#404040" stroke-width="2.2"/>
<line x1="1086.4" y1="2215.2" x2="1086.4" y2="2989.0" stroke="#404040" stroke-width="2.2"/>
<line x1="1072.9" y1="2319.4" x2="1086.4" y2="2319.4" stroke="#404040" stroke-width="2.2"/>
<text transform="translate(1065.7,2313.2) scale(1.045,1)" font-size="36.5" text-anchor="end" fill="#111111">axSpA</text>
<text transform="translate(1065.7,2350.6) scale(1.045,1)" font-size="36.5" text-anchor="end" fill="#111111">(<tspan font-style="italic">vs</tspan> non-axSpA)</text>
<line x1="1072.9" y1="2460.4" x2="1086.4" y2="2460.4" stroke="#404040" stroke-width="2.2"/>
<text transform="translate(1065.7,2454.2) scale(1.045,1)" font-size="36.5" text-anchor="end" fill="#111111">Baseline</text>
<text transform="translate(1065.7,2491.6) scale(1.045,1)" font-size="36.5" text-anchor="end" fill="#111111">score</text>
<line x1="1072.9" y1="2601.4" x2="1086.4" y2="2601.4" stroke="#404040" stroke-width="2.2"/>
<text transform="translate(1065.7,2595.2) scale(1.045,1)" font-size="36.5" text-anchor="end" fill="#111111">Age at</text>
<text transform="translate(1065.7,2632.6) scale(1.045,1)" font-size="36.5" text-anchor="end" fill="#111111">baseline</text>
<line x1="1072.9" y1="2742.4" x2="1086.4" y2="2742.4" stroke="#404040" stroke-width="2.2"/>
<text transform="translate(1065.7,2736.2) scale(1.045,1)" font-size="36.5" text-anchor="end" fill="#111111">Female</text>
<text transform="translate(1065.7,2773.6) scale(1.045,1)" font-size="36.5" text-anchor="end" fill="#111111">(<tspan font-style="italic">vs</tspan> male)</text>
<line x1="1072.9" y1="2883.4" x2="1086.4" y2="2883.4" stroke="#404040" stroke-width="2.2"/>
<text transform="translate(1065.7,2877.2) scale(1.045,1)" font-size="36.5" text-anchor="end" fill="#111111">NSAIDs use: ever</text>
<text transform="translate(1065.7,2914.6) scale(1.045,1)" font-size="36.5" text-anchor="end" fill="#111111">(<tspan font-style="italic">vs</tspan> never)</text>
<line x1="1272.5" y1="2215.2" x2="1272.5" y2="3001.4" stroke="#151515" stroke-width="3.0"/>
<polygon points="1183.1,2319.4 1193.0,2309.5 1202.9,2319.4 1193.0,2329.3" fill="#c99a9d" opacity="0.3"/>
<polygon points="1185.6,2319.4 1193.0,2312.0 1200.4,2319.4 1193.0,2326.8" fill="#fff" stroke="#90353b" stroke-width="2.8" stroke-linejoin="miter"/>
<polygon points="1434.8,2460.4 1444.7,2450.5 1454.6,2460.4 1444.7,2470.3" fill="#c99a9d" opacity="0.3"/>
<polygon points="1437.3,2460.4 1444.7,2453.0 1452.1,2460.4 1444.7,2467.8" fill="#fff" stroke="#90353b" stroke-width="2.8" stroke-linejoin="miter"/>
<polygon points="1265.9,2601.4 1275.8,2591.5 1285.7,2601.4 1275.8,2611.3" fill="#c99a9d" opacity="0.3"/>
<polygon points="1268.4,2601.4 1275.8,2594.0 1283.2,2601.4 1275.8,2608.8" fill="#fff" stroke="#90353b" stroke-width="2.8" stroke-linejoin="miter"/>
<polygon points="1285.8,2742.4 1295.7,2732.5 1305.6,2742.4 1295.7,2752.3" fill="#c99a9d" opacity="0.3"/>
<polygon points="1288.3,2742.4 1295.7,2735.0 1303.1,2742.4 1295.7,2749.8" fill="#fff" stroke="#90353b" stroke-width="2.8" stroke-linejoin="miter"/>
<polygon points="1358.6,2883.4 1368.5,2873.5 1378.4,2883.4 1368.5,2893.3" fill="#c99a9d" opacity="0.3"/>
<polygon points="1361.1,2883.4 1368.5,2876.0 1375.9,2883.4 1368.5,2890.8" fill="#fff" stroke="#90353b" stroke-width="2.8" stroke-linejoin="miter"/>
<line x1="1140.0" y1="2987.9" x2="1140.0" y2="3001.4" stroke="#404040" stroke-width="2.2"/>
<text transform="translate(1140.0,3033.9) scale(1.03,1)" font-size="26.5" text-anchor="middle" fill="#111111" stroke="#111111" stroke-width="0.35">-0.4</text>
<line x1="1206.3" y1="2987.9" x2="1206.3" y2="3001.4" stroke="#404040" stroke-width="2.2"/>
<text transform="translate(1206.3,3033.9) scale(1.03,1)" font-size="26.5" text-anchor="middle" fill="#111111" stroke="#111111" stroke-width="0.35">-0.2</text>
<line x1="1272.5" y1="2987.9" x2="1272.5" y2="3001.4" stroke="#404040" stroke-width="2.2"/>
<text transform="translate(1272.5,3033.9) scale(1.03,1)" font-size="26.5" text-anchor="middle" fill="#111111" stroke="#111111" stroke-width="0.35">0.0</text>
<line x1="1338.7" y1="2987.9" x2="1338.7" y2="3001.4" stroke="#404040" stroke-width="2.2"/>
<text transform="translate(1338.7,3033.9) scale(1.03,1)" font-size="26.5" text-anchor="middle" fill="#111111" stroke="#111111" stroke-width="0.35">0.2</text>
<line x1="1405.0" y1="2987.9" x2="1405.0" y2="3001.4" stroke="#404040" stroke-width="2.2"/>
<text transform="translate(1405.0,3033.9) scale(1.03,1)" font-size="26.5" text-anchor="middle" fill="#111111" stroke="#111111" stroke-width="0.35">0.4</text>
<line x1="1471.2" y1="2987.9" x2="1471.2" y2="3001.4" stroke="#404040" stroke-width="2.2"/>
<text transform="translate(1471.2,3033.9) scale(1.03,1)" font-size="26.5" text-anchor="middle" fill="#111111" stroke="#111111" stroke-width="0.35">0.6</text>
<line x1="1537.5" y1="2987.9" x2="1537.5" y2="3001.4" stroke="#404040" stroke-width="2.2"/>
<text transform="translate(1537.5,3033.9) scale(1.03,1)" font-size="26.5" text-anchor="middle" fill="#111111" stroke="#111111" stroke-width="0.35">0.8</text>
<line x1="1603.7" y1="2987.9" x2="1603.7" y2="3001.4" stroke="#404040" stroke-width="2.2"/>
<text transform="translate(1603.7,3033.9) scale(1.03,1)" font-size="26.5" text-anchor="middle" fill="#111111" stroke="#111111" stroke-width="0.35">1.0</text>
<line x1="1669.9" y1="2987.9" x2="1669.9" y2="3001.4" stroke="#404040" stroke-width="2.2"/>
<text transform="translate(1669.9,3033.9) scale(1.03,1)" font-size="26.5" text-anchor="middle" fill="#111111" stroke="#111111" stroke-width="0.35">1.2</text>
<text transform="translate(1394.6,3072.9) scale(1.04,1)" font-size="26.5" text-anchor="middle" fill="#111111" stroke="#111111" stroke-width="0.35">Coefficient</text>
<text transform="translate(1611.0,2326.4) scale(1.042,1)" font-size="36" text-anchor="end" fill="#111111">-0.24</text>
<text transform="translate(1617.0,2322.8) scale(1.07,1)" font-size="26" text-anchor="start" fill="#111111" stroke="#111111" stroke-width="0.35">(-0.41; -0.08)<tspan font-size="20.5" dy="-4.2">*</tspan></text>
<text transform="translate(1611.0,2467.4) scale(1.042,1)" font-size="36" text-anchor="end" fill="#111111">0.52</text>
<text transform="translate(1617.0,2463.8) scale(1.07,1)" font-size="26" text-anchor="start" fill="#111111" stroke="#111111" stroke-width="0.35">(0.43; 0.62)<tspan font-size="20.5" dy="-4.2">*</tspan></text>
<text transform="translate(1611.0,2608.4) scale(1.042,1)" font-size="36" text-anchor="end" fill="#111111">0.01</text>
<text transform="translate(1617.0,2604.8) scale(1.07,1)" font-size="26" text-anchor="start" fill="#111111" stroke="#111111" stroke-width="0.35">(0.00; 0.02)<tspan font-size="20.5" dy="-4.2">*</tspan></text>
<text transform="translate(1611.0,2749.4) scale(1.042,1)" font-size="36" text-anchor="end" fill="#111111">0.07</text>
<text transform="translate(1617.0,2745.8) scale(1.07,1)" font-size="26" text-anchor="start" fill="#111111" stroke="#111111" stroke-width="0.35">(-0.07; 0.21)</text>
<text transform="translate(1611.0,2890.4) scale(1.042,1)" font-size="36" text-anchor="end" fill="#111111">0.29</text>
<text transform="translate(1617.0,2886.8) scale(1.07,1)" font-size="26" text-anchor="start" fill="#111111" stroke="#111111" stroke-width="0.35">(0.09; 0.49)<tspan font-size="20.5" dy="-4.2">*</tspan></text>
<g font-size="42.5" fill="#000">
<text transform="translate(33.8,3152.0) scale(0.897,1)" font-weight="bold">A)</text>
<text transform="translate(84.7,3152.0) scale(1.039,1)">Multivariable</text>
<text transform="translate(342.0,3152.0) scale(1.022,1)">zero-inflated</text>
<text transform="translate(590.2,3152.0) scale(0.991,1)">negative</text>
<text transform="translate(759.9,3152.0) scale(1.030,1)">binomial</text>
<text transform="translate(932.8,3152.0) scale(1.009,1)">model</text>
<text transform="translate(1061.4,3152.0) scale(1.003,1)">for</text>
<text transform="translate(1125.3,3152.0) scale(1.028,1)">occiput-to-wall</text>
<text transform="translate(1414.7,3152.0) scale(0.998,1)">distance.</text>
<text transform="translate(1591.5,3152.0) scale(0.983,1)">Logit</text>
<text transform="translate(1694.5,3152.0) scale(1.023,1)">model</text>
<text transform="translate(1822.1,3152.0) scale(1.006,1)">represented</text>
<text transform="translate(2061.4,3152.0) scale(0.870,1)">as</text>
<text transform="translate(2112.2,3152.0) scale(0.959,1)">odds</text>
<text transform="translate(2211.0,3152.0) scale(1.067,1)">ratio</text>
<text transform="translate(2309.2,3152.0) scale(0.926,1)">(95%</text>
<text transform="translate(2412.2,3152.0) scale(0.932,1)">CI).</text>
<text transform="translate(32.9,3210.0) scale(0.883,1)" font-weight="bold">B)</text>
<text transform="translate(89.3,3210.0) scale(1.056,1)">to</text>
<text transform="translate(141.0,3210.0) scale(0.897,1)" font-weight="bold">G)</text>
<text transform="translate(197.5,3210.0) scale(1.037,1)">Multivariable</text>
<text transform="translate(458.5,3210.0) scale(0.993,1)">linear</text>
<text transform="translate(577.4,3210.0) scale(0.988,1)">regression</text>
<text transform="translate(787.0,3210.0) scale(0.995,1)">models</text>
<text transform="translate(937.4,3210.0) scale(1.031,1)">for</text>
<text transform="translate(1004.3,3210.0) scale(0.987,1)">cervical</text>
<text transform="translate(1158.8,3210.0) scale(1.088,1)">rotation,</text>
<text transform="translate(1337.1,3210.0) scale(0.963,1)">chest</text>
<text transform="translate(1452.0,3210.0) scale(0.979,1)">expansion,</text>
<text transform="translate(1664.8,3210.0) scale(1.046,1)">lateral</text>
<text transform="translate(1798.6,3210.0) scale(0.987,1)">spinal</text>
<text transform="translate(1922.8,3210.0) scale(1.021,1)">flexion,</text>
<text transform="translate(2071.3,3210.0) scale(1.045,1)">modified</text>
<text transform="translate(2251.8,3210.0) scale(0.958,1)">Schober</text>
<text transform="translate(2418.7,3210.0) scale(1.057,1)">test,</text>
<text transform="translate(32.6,3267.5) scale(1.029,1)">intermalleolar</text>
<text transform="translate(306.8,3267.5) scale(0.984,1)">distance</text>
<text transform="translate(472.7,3267.5) scale(0.987,1)">and</text>
<text transform="translate(551.1,3267.5) scale(0.941,1)">BASMI.</text>
<text transform="translate(697.7,3267.5) scale(0.932,1)">Results</text>
<text transform="translate(840.9,3267.5) scale(0.956,1)">are</text>
<text transform="translate(911.4,3267.5) scale(1.016,1)">presented</text>
<text transform="translate(1112.4,3267.5) scale(1.041,1)">in</text>
<text transform="translate(1156.4,3267.5) scale(1.024,1)">β</text>
<text transform="translate(1190.7,3267.5) scale(0.927,1)">(95%</text>
<text transform="translate(1292.8,3267.5) scale(0.962,1)">CI).</text>
<text transform="translate(34.7,3325.5) scale(1.014,1)">*p&lt;0.05</text>
</g>
</svg>
</body></html>
